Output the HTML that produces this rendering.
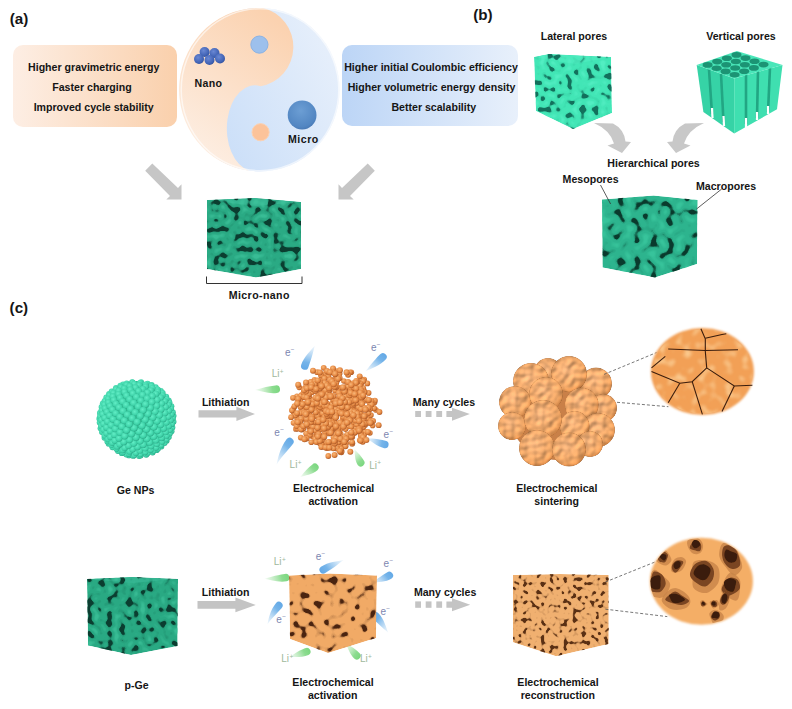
<!DOCTYPE html>
<html><head><meta charset="utf-8">
<style>
html,body{margin:0;padding:0;background:#fff;}
body{width:792px;height:709px;overflow:hidden;position:relative;}
svg{position:absolute;left:0;top:0;}
text{font-family:"Liberation Sans",sans-serif;font-weight:bold;fill:#151515;}
.lb{font-size:15.2px;}
.t{font-size:10.6px;}
.el{font-size:10px;font-weight:normal;fill:#7c86b0;}
.li{font-size:10px;font-weight:normal;fill:#a0b89c;}
</style></head><body>
<svg width="792" height="709" viewBox="0 0 792 709">
<defs>
<linearGradient id="gOr" x1="0" y1="0" x2="1" y2="0"><stop offset="0" stop-color="#fdeee4"/><stop offset="1" stop-color="#fad0ac"/></linearGradient>
<linearGradient id="gBl" x1="0" y1="0" x2="1" y2="0"><stop offset="0" stop-color="#bcd5f6"/><stop offset="1" stop-color="#e8f0fb"/></linearGradient>
<linearGradient id="gYO" x1="0.7" y1="0" x2="0.2" y2="1"><stop offset="0" stop-color="#fbd2b0"/><stop offset="1" stop-color="#fdf0e6"/></linearGradient>
<linearGradient id="gYB" x1="0" y1="0.7" x2="1" y2="0.2"><stop offset="0" stop-color="#c6dcf8"/><stop offset="1" stop-color="#e8f0fb"/></linearGradient>
<radialGradient id="gBall" cx="0.45" cy="0.35" r="0.7"><stop offset="0" stop-color="#6c9ed4"/><stop offset="0.8" stop-color="#5286c2"/><stop offset="1" stop-color="#4574b0"/></radialGradient>
<radialGradient id="gNano" cx="0.4" cy="0.35" r="0.7"><stop offset="0" stop-color="#6a88d4"/><stop offset="0.75" stop-color="#4062b4"/><stop offset="1" stop-color="#2c4c98"/></radialGradient>
<radialGradient id="gTealP" cx="0.42" cy="0.38" r="0.65"><stop offset="0" stop-color="#62eec6"/><stop offset="0.7" stop-color="#3ed2a8"/><stop offset="1" stop-color="#2aa886"/></radialGradient>
<radialGradient id="gGeShade" cx="0.45" cy="0.4" r="0.6"><stop offset="0.7" stop-color="#000" stop-opacity="0"/><stop offset="1" stop-color="#0a5040" stop-opacity="0.25"/></radialGradient>
<radialGradient id="gOrP" cx="0.4" cy="0.36" r="0.68"><stop offset="0" stop-color="#f9b87a"/><stop offset="0.6" stop-color="#e68a44"/><stop offset="1" stop-color="#a85422"/></radialGradient>
<radialGradient id="gSin" cx="0.42" cy="0.38" r="0.65"><stop offset="0" stop-color="#f0b07a"/><stop offset="0.75" stop-color="#e6a062"/><stop offset="1" stop-color="#d08446"/></radialGradient>
<radialGradient id="gZoom1" cx="0.5" cy="0.5" r="0.5"><stop offset="0.85" stop-color="#f2aa68"/><stop offset="1" stop-color="#f5c08e"/></radialGradient>
<radialGradient id="gZoom2" cx="0.5" cy="0.5" r="0.5"><stop offset="0.85" stop-color="#f5b06a"/><stop offset="1" stop-color="#f7c488"/></radialGradient>
<linearGradient id="dropB" x1="0" y1="0" x2="1" y2="0"><stop offset="0" stop-color="#62a8e6"/><stop offset="0.3" stop-color="#6eb0e8" stop-opacity="0.95"/><stop offset="1" stop-color="#a0ccf0" stop-opacity="0.15"/></linearGradient>
<linearGradient id="dropG" x1="0" y1="0" x2="1" y2="0"><stop offset="0" stop-color="#7ad67e"/><stop offset="0.3" stop-color="#86da8a" stop-opacity="0.95"/><stop offset="1" stop-color="#b0e4b0" stop-opacity="0.15"/></linearGradient>

<clipPath id="cA"><path d="M207.0,200.0 L255.0,198.0 L301.0,202.0 L301.0,269.0 L256.0,277.5 L207.0,269.0 Z"/></clipPath>
<filter id="fA" x="0" y="0" width="1" height="1" color-interpolation-filters="sRGB">
<feTurbulence type="fractalNoise" baseFrequency="0.15" numOctaves="1" seed="11" result="n"/>
<feColorMatrix in="n" type="matrix" values="0 0 0 0 0  0 0 0 0 0  0 0 0 0 0  -6 0 0 0 2.5199999999999996" result="ha"/>
<feFlood flood-color="#3fc49c" flood-opacity="0.7"/><feComposite in2="ha" operator="in" result="h"/>
<feColorMatrix in="n" type="matrix" values="0 0 0 0 0  0 0 0 0 0  0 0 0 0 0  5 0 0 0 -2.4999999999999996" result="sa"/>
<feFlood flood-color="#0c5540" flood-opacity="0.45"/><feComposite in2="sa" operator="in" result="s"/>
<feColorMatrix in="n" type="matrix" values="0 0 0 0 0  0 0 0 0 0  0 0 0 0 0  14 0 0 0 -8.12" result="a"/>
<feFlood flood-color="#0b3d30"/><feComposite in2="a" operator="in" result="c"/>
<feMerge><feMergeNode in="h"/><feMergeNode in="s"/><feMergeNode in="c"/></feMerge>
</filter>
<clipPath id="cL"><path d="M534.0,57.0 L549.0,54.0 L611.0,57.0 L612.0,113.0 L573.0,129.0 L536.0,111.0 Z"/></clipPath>
<filter id="fL" x="0" y="0" width="1" height="1" color-interpolation-filters="sRGB">
<feTurbulence type="fractalNoise" baseFrequency="0.15" numOctaves="1" seed="3" result="n"/>
<feColorMatrix in="n" type="matrix" values="0 0 0 0 0  0 0 0 0 0  0 0 0 0 0  -6 0 0 0 2.55" result="ha"/>
<feFlood flood-color="#58f0c6" flood-opacity="0.7"/><feComposite in2="ha" operator="in" result="h"/>
<feColorMatrix in="n" type="matrix" values="0 0 0 0 0  0 0 0 0 0  0 0 0 0 0  5 0 0 0 -2.525" result="sa"/>
<feFlood flood-color="#1a8c70" flood-opacity="0.35"/><feComposite in2="sa" operator="in" result="s"/>
<feColorMatrix in="n" type="matrix" values="0 0 0 0 0  0 0 0 0 0  0 0 0 0 0  14 0 0 0 -8.19" result="a"/>
<feFlood flood-color="#13705c"/><feComposite in2="a" operator="in" result="c"/>
<feMerge><feMergeNode in="h"/><feMergeNode in="s"/><feMergeNode in="c"/></feMerge>
</filter>
<clipPath id="cH"><path d="M602.0,199.5 L653.6,195.6 L697.6,200.0 L697.0,264.0 L655.0,277.4 L602.5,267.6 Z"/></clipPath>
<filter id="fH" x="0" y="0" width="1" height="1" color-interpolation-filters="sRGB">
<feTurbulence type="fractalNoise" baseFrequency="0.12" numOctaves="1" seed="21" result="n"/>
<feColorMatrix in="n" type="matrix" values="0 0 0 0 0  0 0 0 0 0  0 0 0 0 0  -6 0 0 0 2.6399999999999997" result="ha"/>
<feFlood flood-color="#3ccaa0" flood-opacity="0.7"/><feComposite in2="ha" operator="in" result="h"/>
<feColorMatrix in="n" type="matrix" values="0 0 0 0 0  0 0 0 0 0  0 0 0 0 0  5 0 0 0 -2.6" result="sa"/>
<feFlood flood-color="#0c5540" flood-opacity="0.4"/><feComposite in2="sa" operator="in" result="s"/>
<feColorMatrix in="n" type="matrix" values="0 0 0 0 0  0 0 0 0 0  0 0 0 0 0  14 0 0 0 -8.4" result="a"/>
<feFlood flood-color="#0a3a2d"/><feComposite in2="a" operator="in" result="c"/>
<feMerge><feMergeNode in="h"/><feMergeNode in="s"/><feMergeNode in="c"/></feMerge>
</filter>
<clipPath id="cGe"><circle cx="136.5" cy="419" r="39.5"/></clipPath>
<filter id="bump" x="-10%" y="-10%" width="120%" height="120%" color-interpolation-filters="sRGB">
<feTurbulence type="fractalNoise" baseFrequency="0.16" numOctaves="1" seed="4" result="n"/>
<feDiffuseLighting in="n" surfaceScale="1.3" diffuseConstant="1.0" lighting-color="#ffffff" result="light"><feDistantLight azimuth="235" elevation="55"/></feDiffuseLighting>
<feComposite in="SourceGraphic" in2="light" operator="arithmetic" k1="1.26" k2="0" k3="0" k4="0" result="lit"/>
<feComposite in="lit" in2="SourceGraphic" operator="in"/>
</filter>
<filter id="spots" x="0" y="0" width="1" height="1" color-interpolation-filters="sRGB">
<feTurbulence type="fractalNoise" baseFrequency="0.12" numOctaves="1" seed="17" result="n"/>
<feColorMatrix in="n" type="matrix" values="0 0 0 0 0.99  0 0 0 0 0.82  0 0 0 0 0.6  3.5 0 0 0 -1.8" result="c0"/><feGaussianBlur in="c0" stdDeviation="1" result="c"/>
<feComposite in="c" in2="SourceGraphic" operator="in"/></filter>
<filter id="soft1" x="-10%" y="-10%" width="120%" height="120%"><feGaussianBlur stdDeviation="1.2"/></filter>
<clipPath id="cP"><path d="M87.0,579.0 L132.0,577.0 L178.0,579.0 L177.5,646.0 L131.0,655.0 L88.0,645.5 Z"/></clipPath>
<filter id="fP" x="0" y="0" width="1" height="1" color-interpolation-filters="sRGB">
<feTurbulence type="fractalNoise" baseFrequency="0.15" numOctaves="1" seed="33" result="n"/>
<feColorMatrix in="n" type="matrix" values="0 0 0 0 0  0 0 0 0 0  0 0 0 0 0  -6 0 0 0 2.5199999999999996" result="ha"/>
<feFlood flood-color="#3fc49c" flood-opacity="0.7"/><feComposite in2="ha" operator="in" result="h"/>
<feColorMatrix in="n" type="matrix" values="0 0 0 0 0  0 0 0 0 0  0 0 0 0 0  5 0 0 0 -2.4999999999999996" result="sa"/>
<feFlood flood-color="#0c5540" flood-opacity="0.45"/><feComposite in2="sa" operator="in" result="s"/>
<feColorMatrix in="n" type="matrix" values="0 0 0 0 0  0 0 0 0 0  0 0 0 0 0  14 0 0 0 -8.12" result="a"/>
<feFlood flood-color="#0b3d30"/><feComposite in2="a" operator="in" result="c"/>
<feMerge><feMergeNode in="h"/><feMergeNode in="s"/><feMergeNode in="c"/></feMerge>
</filter>
<clipPath id="cO"><path d="M289.0,575.5 L330.0,573.5 L377.0,575.5 L376.0,638.0 L328.0,653.0 L290.0,639.0 Z"/></clipPath>
<filter id="fO" x="0" y="0" width="1" height="1" color-interpolation-filters="sRGB">
<feTurbulence type="fractalNoise" baseFrequency="0.13" numOctaves="1" seed="41" result="n"/>

<feColorMatrix in="n" type="matrix" values="0 0 0 0 0  0 0 0 0 0  0 0 0 0 0  5 0 0 0 -2.625" result="sa"/>
<feFlood flood-color="#4a2410" flood-opacity="0.4"/><feComposite in2="sa" operator="in" result="s"/>
<feColorMatrix in="n" type="matrix" values="0 0 0 0 0  0 0 0 0 0  0 0 0 0 0  14 0 0 0 -8.469999999999999" result="a"/>
<feFlood flood-color="#4a2410"/><feComposite in2="a" operator="in" result="c"/>
<feMerge><feMergeNode in="s"/><feMergeNode in="c"/></feMerge>
</filter>
<clipPath id="cR"><path d="M513.0,575.0 L560.0,574.0 L608.7,575.0 L608.7,644.0 L556.0,656.3 L513.0,642.3 Z"/></clipPath>
<filter id="fR" x="0" y="0" width="1" height="1" color-interpolation-filters="sRGB">
<feTurbulence type="fractalNoise" baseFrequency="0.22" numOctaves="1" seed="51" result="n"/>

<feColorMatrix in="n" type="matrix" values="0 0 0 0 0  0 0 0 0 0  0 0 0 0 0  5 0 0 0 -2.55" result="sa"/>
<feFlood flood-color="#5a3014" flood-opacity="0.45"/><feComposite in2="sa" operator="in" result="s"/>
<feColorMatrix in="n" type="matrix" values="0 0 0 0 0  0 0 0 0 0  0 0 0 0 0  14 0 0 0 -8.26" result="a"/>
<feFlood flood-color="#5a3014"/><feComposite in2="a" operator="in" result="c"/>
<feMerge><feMergeNode in="s"/><feMergeNode in="c"/></feMerge>
</filter>
<filter id="soft2" x="-10%" y="-10%" width="120%" height="120%"><feGaussianBlur stdDeviation="1.2"/></filter>
<clipPath id="cz2"><ellipse cx="701.4" cy="581.2" rx="51" ry="43"/></clipPath>
<filter id="hb" x="-5%" y="-5%" width="110%" height="110%"><feGaussianBlur stdDeviation="0.7"/></filter>
</defs>
<text class="lb" x="9.7" y="23.5">(a)</text>
<rect x="13" y="45" width="164" height="82" rx="10" fill="url(#gOr)"/>
<text class="t" text-anchor="middle" x="93.7" y="70.5">Higher gravimetric energy</text>
<text class="t" text-anchor="middle" x="92" y="91">Faster charging</text>
<text class="t" text-anchor="middle" x="93.7" y="111.3">Improved cycle stability</text>
<rect x="342" y="45" width="176" height="81" rx="10" fill="url(#gBl)"/>
<text class="t" text-anchor="middle" x="431" y="70.5">Higher initial Coulombic efficiency</text>
<text class="t" text-anchor="middle" x="431.6" y="91">Higher volumetric energy density</text>
<text class="t" text-anchor="middle" x="433.8" y="111.3">Better scalability</text>
<g transform="translate(260,89.7) scale(0.99375,1.02125) translate(-260,-90)">
<circle cx="260" cy="90" r="80" fill="url(#gYB)"/>
<path d="M263,10 A80,80 0 0,0 249,169.3 A28,42 0 0,1 260.6,86.6 A39,39 0 0,0 263,10 Z" fill="url(#gYO)"/>
<circle cx="260" cy="90" r="79.3" fill="none" stroke="#ffffff" stroke-opacity="0.6" stroke-width="1.5"/>
</g>
<circle cx="259.4" cy="44.6" r="8.6" fill="#9dc0ec" stroke="#8ab2e4" stroke-width="1"/>
<circle cx="260.6" cy="132.2" r="8.6" fill="#fcc39a" stroke="#fbd2b4" stroke-width="1"/>
<circle cx="302.1" cy="115" r="14.4" fill="url(#gBall)"/>
<circle cx="204.6" cy="52" r="5" fill="url(#gNano)"/>
<circle cx="214.5" cy="53" r="5" fill="url(#gNano)"/>
<circle cx="199" cy="59" r="5" fill="url(#gNano)"/>
<circle cx="209.5" cy="60" r="5" fill="url(#gNano)"/>
<circle cx="220" cy="58.5" r="5" fill="url(#gNano)"/>
<text class="t" x="194.5" y="86.8" letter-spacing="0.3">Nano</text>
<text class="t" x="288" y="142.8" letter-spacing="0.5">Micro</text>
<path d="M152.3,163.5 L178,188 L181.5,184.2 L181.5,199.4 L166.3,199.4 L170,196 L145.2,170.7 Z" fill="#c6c6c6"/>
<path d="M367.7,163.5 L342,188 L338.5,184.2 L338.5,199.4 L353.7,199.4 L350,196 L374.8,170.7 Z" fill="#c6c6c6"/>
<g clip-path="url(#cA)">
<path d="M207.0,200.0 L255.0,198.0 L301.0,202.0 L301.0,269.0 L256.0,277.5 L207.0,269.0 Z" fill="#2aaa84"/>
<path d="M207.0,200.0 L255.0,198.0 L301.0,202.0 L256.0,206.0 Z" fill="#36b692"/>
<rect x="205" y="196" width="98" height="83.5" filter="url(#fA)"/>
</g>
<path d="M206.5,276.5 L206.5,283.5 L302,283.5 L302,276.5" fill="none" stroke="#333" stroke-width="1"/>
<text class="t" text-anchor="middle" x="259.3" y="298.6" letter-spacing="0.4">Micro-nano</text>
<text class="lb" x="473.2" y="20.1">(b)</text>
<text class="t" x="540.7" y="39.7">Lateral pores</text>
<text class="t" x="706.2" y="40">Vertical pores</text>
<g clip-path="url(#cL)">
<path d="M534.0,57.0 L549.0,54.0 L611.0,57.0 L612.0,113.0 L573.0,129.0 L536.0,111.0 Z" fill="#42e6b6"/>
<path d="M534.0,57.0 L549.0,54.0 L611.0,57.0 L575.0,64.0 Z" fill="#4aeabc"/>
<rect x="532" y="52" width="82" height="79" filter="url(#fL)"/>
</g>
<path d="M696.7,65.0 L734.2,78.5 L734.2,133.5 L703.4,112.0 Z" fill="#36d3a6"/>
<path d="M734.2,78.5 L782.5,65.0 L777.0,109.3 L734.2,133.5 Z" fill="#3fdfb0"/>
<path d="M709,69.5 L712,114" stroke="#22a683" stroke-width="2.6"/>
<path d="M721,74 L723.5,122" stroke="#22a683" stroke-width="2.6"/>
<path d="M746,74.5 L746,124" stroke="#22a683" stroke-width="2.6"/>
<path d="M758,71 L757,118" stroke="#22a683" stroke-width="2.6"/>
<path d="M770,67.5 L768,112" stroke="#22a683" stroke-width="2.6"/>
<path d="M712,108 L712.5,118" stroke="#ffffff" stroke-width="2.2"/>
<path d="M723.5,116 L724,126" stroke="#ffffff" stroke-width="2.2"/>
<path d="M746,118 L746,128" stroke="#ffffff" stroke-width="2.2"/>
<path d="M757,112 L757,120" stroke="#ffffff" stroke-width="2.2"/>
<path d="M768,106 L768,114" stroke="#ffffff" stroke-width="2.2"/>
<path d="M696.7,65.0 L736.9,51.0 L782.5,65.0 L734.2,78.5 Z" fill="#4ae6b9"/>
<ellipse cx="707.6" cy="64.9" rx="5.0" ry="2.8" fill="#1c9474"/>
<ellipse cx="716.6" cy="68.2" rx="5.0" ry="2.8" fill="#1c9474"/>
<ellipse cx="725.6" cy="71.4" rx="5.0" ry="2.8" fill="#1c9474"/>
<ellipse cx="734.6" cy="74.7" rx="5.0" ry="2.8" fill="#1c9474"/>
<ellipse cx="717.2" cy="61.6" rx="5.0" ry="2.8" fill="#1c9474"/>
<ellipse cx="726.2" cy="64.8" rx="5.0" ry="2.8" fill="#1c9474"/>
<ellipse cx="735.2" cy="68.0" rx="5.0" ry="2.8" fill="#1c9474"/>
<ellipse cx="744.2" cy="71.3" rx="5.0" ry="2.8" fill="#1c9474"/>
<ellipse cx="726.9" cy="58.2" rx="5.0" ry="2.8" fill="#1c9474"/>
<ellipse cx="735.9" cy="61.5" rx="5.0" ry="2.8" fill="#1c9474"/>
<ellipse cx="744.9" cy="64.7" rx="5.0" ry="2.8" fill="#1c9474"/>
<ellipse cx="753.9" cy="67.9" rx="5.0" ry="2.8" fill="#1c9474"/>
<ellipse cx="736.5" cy="54.9" rx="5.0" ry="2.8" fill="#1c9474"/>
<ellipse cx="745.5" cy="58.1" rx="5.0" ry="2.8" fill="#1c9474"/>
<ellipse cx="754.5" cy="61.3" rx="5.0" ry="2.8" fill="#1c9474"/>
<ellipse cx="763.5" cy="64.6" rx="5.0" ry="2.8" fill="#1c9474"/>
<path d="M594,123 L613,123.5 Q624,129 625.5,141.5 L631,142 L622,153 L607.5,145.5 L614,143.5 Q610,130 594,123 Z" fill="#c8c8c8"/>
<path d="M704,123 L685,123.5 Q674,129 672.5,141.5 L667,142 L676,153 L690.5,145.5 L684,143.5 Q688,130 704,123 Z" fill="#c8c8c8"/>
<text class="t" x="607.3" y="166.9">Hierarchical pores</text>
<text class="t" x="562.6" y="183.1">Mesopores</text>
<text class="t" x="696" y="189.5">Macropores</text>
<g clip-path="url(#cH)">
<path d="M602.0,199.5 L653.6,195.6 L697.6,200.0 L697.0,264.0 L655.0,277.4 L602.5,267.6 Z" fill="#2db48e"/>
<rect x="600" y="193.6" width="99.60000000000002" height="85.79999999999998" filter="url(#fH)"/>
</g>
<line x1="600.5" y1="185" x2="610.6" y2="204" stroke="#333" stroke-width="0.8"/>
<line x1="721.7" y1="189" x2="696.5" y2="209" stroke="#333" stroke-width="0.8"/>
<text class="lb" x="9.6" y="313.1">(c)</text>
<circle cx="136.5" cy="419" r="38" fill="#2fb88e"/>
<g>
<circle cx="156.6" cy="450.2" r="2.87" fill="url(#gTealP)"/>
<circle cx="168.7" cy="400.4" r="2.87" fill="url(#gTealP)"/>
<circle cx="123.1" cy="384.3" r="2.87" fill="url(#gTealP)"/>
<circle cx="109.1" cy="393.8" r="2.87" fill="url(#gTealP)"/>
<circle cx="129.0" cy="455.4" r="2.88" fill="url(#gTealP)"/>
<circle cx="151.6" cy="385.0" r="2.88" fill="url(#gTealP)"/>
<circle cx="99.3" cy="418.7" r="2.88" fill="url(#gTealP)"/>
<circle cx="166.7" cy="440.7" r="2.88" fill="url(#gTealP)"/>
<circle cx="173.6" cy="415.8" r="2.89" fill="url(#gTealP)"/>
<circle cx="108.6" cy="443.7" r="2.89" fill="url(#gTealP)"/>
<circle cx="139.0" cy="456.1" r="2.90" fill="url(#gTealP)"/>
<circle cx="102.8" cy="403.3" r="2.90" fill="url(#gTealP)"/>
<circle cx="160.9" cy="390.9" r="2.90" fill="url(#gTealP)"/>
<circle cx="132.1" cy="382.1" r="2.91" fill="url(#gTealP)"/>
<circle cx="121.8" cy="453.2" r="2.91" fill="url(#gTealP)"/>
<circle cx="171.6" cy="431.2" r="2.91" fill="url(#gTealP)"/>
<circle cx="116.0" cy="387.9" r="2.91" fill="url(#gTealP)"/>
<circle cx="100.5" cy="428.3" r="2.91" fill="url(#gTealP)"/>
<circle cx="161.4" cy="446.6" r="2.92" fill="url(#gTealP)"/>
<circle cx="171.4" cy="406.3" r="2.93" fill="url(#gTealP)"/>
<circle cx="99.9" cy="412.9" r="2.94" fill="url(#gTealP)"/>
<circle cx="152.6" cy="452.5" r="2.94" fill="url(#gTealP)"/>
<circle cx="104.5" cy="437.8" r="2.94" fill="url(#gTealP)"/>
<circle cx="106.3" cy="397.5" r="2.95" fill="url(#gTealP)"/>
<circle cx="173.5" cy="421.7" r="2.95" fill="url(#gTealP)"/>
<circle cx="166.2" cy="396.8" r="2.95" fill="url(#gTealP)"/>
<circle cx="155.7" cy="387.3" r="2.95" fill="url(#gTealP)"/>
<circle cx="133.3" cy="455.9" r="2.96" fill="url(#gTealP)"/>
<circle cx="112.5" cy="447.3" r="2.96" fill="url(#gTealP)"/>
<circle cx="147.6" cy="383.6" r="2.96" fill="url(#gTealP)"/>
<circle cx="141.1" cy="382.2" r="2.96" fill="url(#gTealP)"/>
<circle cx="168.8" cy="437.1" r="2.96" fill="url(#gTealP)"/>
<circle cx="146.2" cy="454.7" r="2.97" fill="url(#gTealP)"/>
<circle cx="99.7" cy="422.4" r="2.97" fill="url(#gTealP)"/>
<circle cx="120.4" cy="385.7" r="2.98" fill="url(#gTealP)"/>
<circle cx="126.4" cy="454.6" r="2.98" fill="url(#gTealP)"/>
<circle cx="111.7" cy="391.6" r="2.98" fill="url(#gTealP)"/>
<circle cx="172.8" cy="412.2" r="2.98" fill="url(#gTealP)"/>
<circle cx="101.6" cy="407.0" r="2.99" fill="url(#gTealP)"/>
<circle cx="118.0" cy="450.9" r="2.99" fill="url(#gTealP)"/>
<circle cx="126.7" cy="383.4" r="2.99" fill="url(#gTealP)"/>
<circle cx="164.5" cy="443.0" r="3.00" fill="url(#gTealP)"/>
<circle cx="140.6" cy="455.6" r="3.00" fill="url(#gTealP)"/>
<circle cx="102.0" cy="431.9" r="3.00" fill="url(#gTealP)"/>
<circle cx="172.3" cy="427.6" r="3.00" fill="url(#gTealP)"/>
<circle cx="169.4" cy="402.6" r="3.01" fill="url(#gTealP)"/>
<circle cx="157.9" cy="448.8" r="3.01" fill="url(#gTealP)"/>
<circle cx="162.6" cy="393.1" r="3.01" fill="url(#gTealP)"/>
<circle cx="107.4" cy="441.4" r="3.01" fill="url(#gTealP)"/>
<circle cx="132.6" cy="382.6" r="3.02" fill="url(#gTealP)"/>
<circle cx="100.0" cy="416.5" r="3.03" fill="url(#gTealP)"/>
<circle cx="104.7" cy="401.1" r="3.03" fill="url(#gTealP)"/>
<circle cx="172.9" cy="418.0" r="3.04" fill="url(#gTealP)"/>
<circle cx="157.7" cy="389.5" r="3.05" fill="url(#gTealP)"/>
<circle cx="151.4" cy="385.9" r="3.05" fill="url(#gTealP)"/>
<circle cx="169.8" cy="433.4" r="3.05" fill="url(#gTealP)"/>
<circle cx="115.7" cy="389.3" r="3.06" fill="url(#gTealP)"/>
<circle cx="109.2" cy="395.2" r="3.06" fill="url(#gTealP)"/>
<circle cx="101.0" cy="426.0" r="3.06" fill="url(#gTealP)"/>
<circle cx="153.1" cy="451.1" r="3.06" fill="url(#gTealP)"/>
<circle cx="134.1" cy="455.1" r="3.06" fill="url(#gTealP)"/>
<circle cx="111.5" cy="445.0" r="3.07" fill="url(#gTealP)"/>
<circle cx="171.0" cy="408.5" r="3.07" fill="url(#gTealP)"/>
<circle cx="140.1" cy="383.1" r="3.07" fill="url(#gTealP)"/>
<circle cx="147.4" cy="453.3" r="3.07" fill="url(#gTealP)"/>
<circle cx="122.9" cy="452.3" r="3.08" fill="url(#gTealP)"/>
<circle cx="166.4" cy="399.0" r="3.08" fill="url(#gTealP)"/>
<circle cx="104.6" cy="435.5" r="3.08" fill="url(#gTealP)"/>
<circle cx="101.6" cy="410.6" r="3.08" fill="url(#gTealP)"/>
<circle cx="166.1" cy="439.3" r="3.08" fill="url(#gTealP)"/>
<circle cx="116.5" cy="448.7" r="3.09" fill="url(#gTealP)"/>
<circle cx="160.8" cy="445.2" r="3.09" fill="url(#gTealP)"/>
<circle cx="145.7" cy="384.5" r="3.09" fill="url(#gTealP)"/>
<circle cx="171.9" cy="423.9" r="3.10" fill="url(#gTealP)"/>
<circle cx="126.4" cy="384.8" r="3.10" fill="url(#gTealP)"/>
<circle cx="120.7" cy="387.1" r="3.10" fill="url(#gTealP)"/>
<circle cx="128.8" cy="453.7" r="3.11" fill="url(#gTealP)"/>
<circle cx="140.1" cy="454.2" r="3.12" fill="url(#gTealP)"/>
<circle cx="101.2" cy="420.1" r="3.12" fill="url(#gTealP)"/>
<circle cx="104.3" cy="404.7" r="3.12" fill="url(#gTealP)"/>
<circle cx="171.3" cy="414.4" r="3.13" fill="url(#gTealP)"/>
<circle cx="162.5" cy="395.4" r="3.13" fill="url(#gTealP)"/>
<circle cx="134.2" cy="384.0" r="3.13" fill="url(#gTealP)"/>
<circle cx="108.0" cy="439.2" r="3.14" fill="url(#gTealP)"/>
<circle cx="169.7" cy="429.8" r="3.14" fill="url(#gTealP)"/>
<circle cx="103.3" cy="429.6" r="3.14" fill="url(#gTealP)"/>
<circle cx="168.3" cy="404.9" r="3.15" fill="url(#gTealP)"/>
<circle cx="113.4" cy="393.0" r="3.15" fill="url(#gTealP)"/>
<circle cx="108.1" cy="398.8" r="3.15" fill="url(#gTealP)"/>
<circle cx="152.3" cy="388.1" r="3.15" fill="url(#gTealP)"/>
<circle cx="157.8" cy="391.7" r="3.16" fill="url(#gTealP)"/>
<circle cx="156.0" cy="447.5" r="3.16" fill="url(#gTealP)"/>
<circle cx="102.6" cy="414.2" r="3.17" fill="url(#gTealP)"/>
<circle cx="166.4" cy="435.7" r="3.17" fill="url(#gTealP)"/>
<circle cx="145.1" cy="452.0" r="3.18" fill="url(#gTealP)"/>
<circle cx="122.6" cy="450.1" r="3.18" fill="url(#gTealP)"/>
<circle cx="161.9" cy="441.6" r="3.18" fill="url(#gTealP)"/>
<circle cx="112.2" cy="442.8" r="3.18" fill="url(#gTealP)"/>
<circle cx="170.4" cy="420.3" r="3.19" fill="url(#gTealP)"/>
<circle cx="135.8" cy="452.8" r="3.19" fill="url(#gTealP)"/>
<circle cx="150.6" cy="449.7" r="3.19" fill="url(#gTealP)"/>
<circle cx="139.1" cy="385.3" r="3.19" fill="url(#gTealP)"/>
<circle cx="117.1" cy="446.4" r="3.20" fill="url(#gTealP)"/>
<circle cx="145.6" cy="386.7" r="3.20" fill="url(#gTealP)"/>
<circle cx="129.6" cy="386.2" r="3.20" fill="url(#gTealP)"/>
<circle cx="118.6" cy="390.7" r="3.20" fill="url(#gTealP)"/>
<circle cx="103.4" cy="423.8" r="3.20" fill="url(#gTealP)"/>
<circle cx="164.8" cy="401.3" r="3.21" fill="url(#gTealP)"/>
<circle cx="168.8" cy="410.8" r="3.21" fill="url(#gTealP)"/>
<circle cx="106.4" cy="433.3" r="3.21" fill="url(#gTealP)"/>
<circle cx="105.0" cy="408.4" r="3.21" fill="url(#gTealP)"/>
<circle cx="129.5" cy="451.4" r="3.22" fill="url(#gTealP)"/>
<circle cx="124.2" cy="388.5" r="3.23" fill="url(#gTealP)"/>
<circle cx="168.5" cy="426.2" r="3.23" fill="url(#gTealP)"/>
<circle cx="108.4" cy="402.5" r="3.24" fill="url(#gTealP)"/>
<circle cx="112.9" cy="396.6" r="3.24" fill="url(#gTealP)"/>
<circle cx="160.6" cy="397.6" r="3.25" fill="url(#gTealP)"/>
<circle cx="156.7" cy="443.8" r="3.26" fill="url(#gTealP)"/>
<circle cx="150.8" cy="390.4" r="3.26" fill="url(#gTealP)"/>
<circle cx="104.6" cy="417.9" r="3.26" fill="url(#gTealP)"/>
<circle cx="165.5" cy="432.1" r="3.26" fill="url(#gTealP)"/>
<circle cx="139.8" cy="450.6" r="3.26" fill="url(#gTealP)"/>
<circle cx="110.3" cy="436.9" r="3.27" fill="url(#gTealP)"/>
<circle cx="168.1" cy="416.7" r="3.27" fill="url(#gTealP)"/>
<circle cx="155.9" cy="394.0" r="3.27" fill="url(#gTealP)"/>
<circle cx="161.6" cy="437.9" r="3.27" fill="url(#gTealP)"/>
<circle cx="135.4" cy="387.6" r="3.27" fill="url(#gTealP)"/>
<circle cx="165.5" cy="407.1" r="3.28" fill="url(#gTealP)"/>
<circle cx="106.4" cy="427.4" r="3.28" fill="url(#gTealP)"/>
<circle cx="124.6" cy="447.8" r="3.28" fill="url(#gTealP)"/>
<circle cx="151.0" cy="446.1" r="3.30" fill="url(#gTealP)"/>
<circle cx="142.9" cy="389.0" r="3.30" fill="url(#gTealP)"/>
<circle cx="114.8" cy="440.5" r="3.30" fill="url(#gTealP)"/>
<circle cx="145.1" cy="448.3" r="3.30" fill="url(#gTealP)"/>
<circle cx="106.8" cy="412.0" r="3.30" fill="url(#gTealP)"/>
<circle cx="118.5" cy="394.3" r="3.30" fill="url(#gTealP)"/>
<circle cx="132.6" cy="449.2" r="3.30" fill="url(#gTealP)"/>
<circle cx="119.6" cy="444.2" r="3.31" fill="url(#gTealP)"/>
<circle cx="166.3" cy="422.5" r="3.31" fill="url(#gTealP)"/>
<circle cx="130.3" cy="389.8" r="3.32" fill="url(#gTealP)"/>
<circle cx="109.9" cy="406.1" r="3.32" fill="url(#gTealP)"/>
<circle cx="113.8" cy="400.2" r="3.33" fill="url(#gTealP)"/>
<circle cx="124.5" cy="392.1" r="3.33" fill="url(#gTealP)"/>
<circle cx="161.5" cy="403.5" r="3.33" fill="url(#gTealP)"/>
<circle cx="107.4" cy="421.5" r="3.33" fill="url(#gTealP)"/>
<circle cx="110.1" cy="431.0" r="3.34" fill="url(#gTealP)"/>
<circle cx="164.9" cy="413.0" r="3.34" fill="url(#gTealP)"/>
<circle cx="155.9" cy="440.2" r="3.35" fill="url(#gTealP)"/>
<circle cx="163.6" cy="428.4" r="3.35" fill="url(#gTealP)"/>
<circle cx="147.4" cy="392.6" r="3.35" fill="url(#gTealP)"/>
<circle cx="160.1" cy="434.3" r="3.36" fill="url(#gTealP)"/>
<circle cx="157.0" cy="399.9" r="3.36" fill="url(#gTealP)"/>
<circle cx="137.4" cy="446.9" r="3.36" fill="url(#gTealP)"/>
<circle cx="138.5" cy="391.2" r="3.36" fill="url(#gTealP)"/>
<circle cx="128.5" cy="445.6" r="3.37" fill="url(#gTealP)"/>
<circle cx="152.2" cy="396.2" r="3.37" fill="url(#gTealP)"/>
<circle cx="109.5" cy="415.6" r="3.38" fill="url(#gTealP)"/>
<circle cx="114.4" cy="434.7" r="3.38" fill="url(#gTealP)"/>
<circle cx="149.6" cy="442.4" r="3.38" fill="url(#gTealP)"/>
<circle cx="120.0" cy="398.0" r="3.39" fill="url(#gTealP)"/>
<circle cx="163.2" cy="418.9" r="3.39" fill="url(#gTealP)"/>
<circle cx="143.2" cy="444.7" r="3.39" fill="url(#gTealP)"/>
<circle cx="161.0" cy="409.4" r="3.40" fill="url(#gTealP)"/>
<circle cx="123.8" cy="441.9" r="3.40" fill="url(#gTealP)"/>
<circle cx="111.1" cy="425.1" r="3.40" fill="url(#gTealP)"/>
<circle cx="119.0" cy="438.3" r="3.40" fill="url(#gTealP)"/>
<circle cx="112.4" cy="409.7" r="3.40" fill="url(#gTealP)"/>
<circle cx="132.8" cy="393.5" r="3.40" fill="url(#gTealP)"/>
<circle cx="115.9" cy="403.9" r="3.41" fill="url(#gTealP)"/>
<circle cx="126.5" cy="395.7" r="3.41" fill="url(#gTealP)"/>
<circle cx="142.5" cy="394.9" r="3.42" fill="url(#gTealP)"/>
<circle cx="160.7" cy="424.8" r="3.42" fill="url(#gTealP)"/>
<circle cx="153.7" cy="436.6" r="3.43" fill="url(#gTealP)"/>
<circle cx="133.8" cy="443.3" r="3.43" fill="url(#gTealP)"/>
<circle cx="156.6" cy="405.8" r="3.43" fill="url(#gTealP)"/>
<circle cx="157.4" cy="430.7" r="3.44" fill="url(#gTealP)"/>
<circle cx="113.0" cy="419.3" r="3.44" fill="url(#gTealP)"/>
<circle cx="115.3" cy="428.8" r="3.44" fill="url(#gTealP)"/>
<circle cx="159.4" cy="415.3" r="3.45" fill="url(#gTealP)"/>
<circle cx="147.1" cy="398.5" r="3.45" fill="url(#gTealP)"/>
<circle cx="151.8" cy="402.1" r="3.45" fill="url(#gTealP)"/>
<circle cx="146.9" cy="438.8" r="3.46" fill="url(#gTealP)"/>
<circle cx="140.1" cy="441.1" r="3.46" fill="url(#gTealP)"/>
<circle cx="122.6" cy="401.6" r="3.46" fill="url(#gTealP)"/>
<circle cx="136.4" cy="397.1" r="3.47" fill="url(#gTealP)"/>
<circle cx="129.4" cy="439.7" r="3.47" fill="url(#gTealP)"/>
<circle cx="115.7" cy="413.4" r="3.47" fill="url(#gTealP)"/>
<circle cx="119.9" cy="432.4" r="3.47" fill="url(#gTealP)"/>
<circle cx="119.0" cy="407.5" r="3.48" fill="url(#gTealP)"/>
<circle cx="129.6" cy="399.4" r="3.48" fill="url(#gTealP)"/>
<circle cx="124.7" cy="436.0" r="3.48" fill="url(#gTealP)"/>
<circle cx="157.0" cy="421.2" r="3.48" fill="url(#gTealP)"/>
<circle cx="155.0" cy="411.6" r="3.49" fill="url(#gTealP)"/>
<circle cx="150.5" cy="432.9" r="3.49" fill="url(#gTealP)"/>
<circle cx="117.2" cy="422.9" r="3.49" fill="url(#gTealP)"/>
<circle cx="153.9" cy="427.0" r="3.50" fill="url(#gTealP)"/>
<circle cx="140.7" cy="400.7" r="3.50" fill="url(#gTealP)"/>
<circle cx="136.0" cy="437.4" r="3.51" fill="url(#gTealP)"/>
<circle cx="150.3" cy="408.0" r="3.52" fill="url(#gTealP)"/>
<circle cx="143.2" cy="435.2" r="3.52" fill="url(#gTealP)"/>
<circle cx="126.2" cy="405.2" r="3.52" fill="url(#gTealP)"/>
<circle cx="145.5" cy="404.4" r="3.52" fill="url(#gTealP)"/>
<circle cx="119.8" cy="417.0" r="3.52" fill="url(#gTealP)"/>
<circle cx="121.8" cy="426.5" r="3.53" fill="url(#gTealP)"/>
<circle cx="133.6" cy="403.0" r="3.53" fill="url(#gTealP)"/>
<circle cx="152.7" cy="417.5" r="3.53" fill="url(#gTealP)"/>
<circle cx="122.9" cy="411.1" r="3.53" fill="url(#gTealP)"/>
<circle cx="131.5" cy="433.8" r="3.54" fill="url(#gTealP)"/>
<circle cx="126.6" cy="430.2" r="3.54" fill="url(#gTealP)"/>
<circle cx="146.5" cy="429.3" r="3.55" fill="url(#gTealP)"/>
<circle cx="149.8" cy="423.4" r="3.55" fill="url(#gTealP)"/>
<circle cx="138.9" cy="431.5" r="3.56" fill="url(#gTealP)"/>
<circle cx="148.0" cy="413.9" r="3.56" fill="url(#gTealP)"/>
<circle cx="138.2" cy="406.6" r="3.56" fill="url(#gTealP)"/>
<circle cx="124.3" cy="420.6" r="3.56" fill="url(#gTealP)"/>
<circle cx="130.5" cy="408.9" r="3.56" fill="url(#gTealP)"/>
<circle cx="143.1" cy="410.3" r="3.57" fill="url(#gTealP)"/>
<circle cx="127.3" cy="414.8" r="3.57" fill="url(#gTealP)"/>
<circle cx="134.1" cy="427.9" r="3.58" fill="url(#gTealP)"/>
<circle cx="129.2" cy="424.3" r="3.58" fill="url(#gTealP)"/>
<circle cx="145.1" cy="419.8" r="3.58" fill="url(#gTealP)"/>
<circle cx="142.0" cy="425.7" r="3.58" fill="url(#gTealP)"/>
<circle cx="135.2" cy="412.5" r="3.59" fill="url(#gTealP)"/>
<circle cx="140.2" cy="416.1" r="3.59" fill="url(#gTealP)"/>
<circle cx="132.2" cy="418.4" r="3.60" fill="url(#gTealP)"/>
<circle cx="137.1" cy="422.0" r="3.60" fill="url(#gTealP)"/>
</g>
<text class="t" x="116.7" y="493.6">Ge NPs</text>
<text class="t" x="201.9" y="405.8">Lithiation</text>
<path d="M198.5,410.3 L236.4,410.3 L236.4,406.8 L255,414 L236.4,420.9 L236.4,417.4 L198.5,417.4 Z" fill="#c4c4c4"/>
<circle cx="347.4" cy="412.3" r="2.61" fill="url(#gOrP)"/>
<circle cx="342.4" cy="407.6" r="2.62" fill="url(#gOrP)"/>
<circle cx="344.3" cy="399.8" r="2.63" fill="url(#gOrP)"/>
<circle cx="345.1" cy="427.6" r="2.63" fill="url(#gOrP)"/>
<circle cx="326.2" cy="398.5" r="2.63" fill="url(#gOrP)"/>
<circle cx="337.2" cy="399.2" r="2.63" fill="url(#gOrP)"/>
<circle cx="324.6" cy="403.1" r="2.64" fill="url(#gOrP)"/>
<circle cx="353.0" cy="405.5" r="2.64" fill="url(#gOrP)"/>
<circle cx="349.3" cy="395.3" r="2.64" fill="url(#gOrP)"/>
<circle cx="320.9" cy="429.6" r="2.64" fill="url(#gOrP)"/>
<circle cx="351.9" cy="403.9" r="2.64" fill="url(#gOrP)"/>
<circle cx="336.2" cy="427.3" r="2.64" fill="url(#gOrP)"/>
<circle cx="335.1" cy="418.7" r="2.65" fill="url(#gOrP)"/>
<circle cx="326.6" cy="403.2" r="2.65" fill="url(#gOrP)"/>
<circle cx="339.7" cy="427.2" r="2.65" fill="url(#gOrP)"/>
<circle cx="309.8" cy="415.0" r="2.66" fill="url(#gOrP)"/>
<circle cx="349.2" cy="413.2" r="2.66" fill="url(#gOrP)"/>
<circle cx="344.7" cy="393.7" r="2.66" fill="url(#gOrP)"/>
<circle cx="320.4" cy="389.6" r="2.66" fill="url(#gOrP)"/>
<circle cx="331.8" cy="403.1" r="2.66" fill="url(#gOrP)"/>
<circle cx="324.3" cy="401.9" r="2.66" fill="url(#gOrP)"/>
<circle cx="361.5" cy="414.0" r="2.66" fill="url(#gOrP)"/>
<circle cx="336.4" cy="433.3" r="2.66" fill="url(#gOrP)"/>
<circle cx="354.4" cy="411.1" r="2.67" fill="url(#gOrP)"/>
<circle cx="315.5" cy="416.4" r="2.67" fill="url(#gOrP)"/>
<circle cx="346.9" cy="412.1" r="2.67" fill="url(#gOrP)"/>
<circle cx="329.0" cy="412.4" r="2.67" fill="url(#gOrP)"/>
<circle cx="340.1" cy="403.7" r="2.67" fill="url(#gOrP)"/>
<circle cx="314.8" cy="415.5" r="2.68" fill="url(#gOrP)"/>
<circle cx="325.9" cy="386.1" r="2.68" fill="url(#gOrP)"/>
<circle cx="322.0" cy="414.9" r="2.68" fill="url(#gOrP)"/>
<circle cx="311.2" cy="403.3" r="2.68" fill="url(#gOrP)"/>
<circle cx="350.1" cy="433.9" r="2.68" fill="url(#gOrP)"/>
<circle cx="339.8" cy="436.4" r="2.68" fill="url(#gOrP)"/>
<circle cx="310.6" cy="416.9" r="2.68" fill="url(#gOrP)"/>
<circle cx="308.4" cy="418.2" r="2.69" fill="url(#gOrP)"/>
<circle cx="359.9" cy="426.5" r="2.69" fill="url(#gOrP)"/>
<circle cx="332.1" cy="421.7" r="2.69" fill="url(#gOrP)"/>
<circle cx="354.3" cy="426.1" r="2.69" fill="url(#gOrP)"/>
<circle cx="328.3" cy="427.4" r="2.69" fill="url(#gOrP)"/>
<circle cx="343.7" cy="425.0" r="2.69" fill="url(#gOrP)"/>
<circle cx="323.1" cy="411.4" r="2.69" fill="url(#gOrP)"/>
<circle cx="316.3" cy="434.5" r="2.69" fill="url(#gOrP)"/>
<circle cx="354.0" cy="426.3" r="2.69" fill="url(#gOrP)"/>
<circle cx="360.1" cy="396.5" r="2.69" fill="url(#gOrP)"/>
<circle cx="349.0" cy="396.5" r="2.69" fill="url(#gOrP)"/>
<circle cx="345.9" cy="436.7" r="2.69" fill="url(#gOrP)"/>
<circle cx="307.4" cy="417.5" r="2.69" fill="url(#gOrP)"/>
<circle cx="316.0" cy="407.5" r="2.69" fill="url(#gOrP)"/>
<circle cx="317.4" cy="433.1" r="2.70" fill="url(#gOrP)"/>
<circle cx="319.9" cy="435.2" r="2.70" fill="url(#gOrP)"/>
<circle cx="345.1" cy="441.0" r="2.70" fill="url(#gOrP)"/>
<circle cx="354.8" cy="396.6" r="2.70" fill="url(#gOrP)"/>
<circle cx="362.5" cy="399.6" r="2.70" fill="url(#gOrP)"/>
<circle cx="340.8" cy="434.0" r="2.70" fill="url(#gOrP)"/>
<circle cx="316.3" cy="432.5" r="2.70" fill="url(#gOrP)"/>
<circle cx="336.3" cy="386.6" r="2.70" fill="url(#gOrP)"/>
<circle cx="365.5" cy="400.7" r="2.70" fill="url(#gOrP)"/>
<circle cx="351.9" cy="405.5" r="2.71" fill="url(#gOrP)"/>
<circle cx="358.3" cy="405.7" r="2.71" fill="url(#gOrP)"/>
<circle cx="321.7" cy="378.8" r="2.71" fill="url(#gOrP)"/>
<circle cx="316.0" cy="411.0" r="2.71" fill="url(#gOrP)"/>
<circle cx="357.2" cy="409.0" r="2.71" fill="url(#gOrP)"/>
<circle cx="358.5" cy="407.3" r="2.71" fill="url(#gOrP)"/>
<circle cx="316.3" cy="423.9" r="2.71" fill="url(#gOrP)"/>
<circle cx="353.9" cy="425.1" r="2.71" fill="url(#gOrP)"/>
<circle cx="334.2" cy="416.3" r="2.71" fill="url(#gOrP)"/>
<circle cx="317.8" cy="411.4" r="2.71" fill="url(#gOrP)"/>
<circle cx="334.0" cy="406.3" r="2.71" fill="url(#gOrP)"/>
<circle cx="333.3" cy="437.1" r="2.71" fill="url(#gOrP)"/>
<circle cx="319.3" cy="426.2" r="2.71" fill="url(#gOrP)"/>
<circle cx="314.3" cy="405.1" r="2.71" fill="url(#gOrP)"/>
<circle cx="302.8" cy="397.5" r="2.71" fill="url(#gOrP)"/>
<circle cx="313.2" cy="429.9" r="2.71" fill="url(#gOrP)"/>
<circle cx="355.2" cy="397.3" r="2.71" fill="url(#gOrP)"/>
<circle cx="301.6" cy="394.6" r="2.71" fill="url(#gOrP)"/>
<circle cx="354.4" cy="415.5" r="2.71" fill="url(#gOrP)"/>
<circle cx="330.1" cy="397.3" r="2.71" fill="url(#gOrP)"/>
<circle cx="329.9" cy="381.6" r="2.72" fill="url(#gOrP)"/>
<circle cx="356.1" cy="388.0" r="2.72" fill="url(#gOrP)"/>
<circle cx="356.0" cy="428.2" r="2.72" fill="url(#gOrP)"/>
<circle cx="364.9" cy="407.9" r="2.72" fill="url(#gOrP)"/>
<circle cx="323.9" cy="389.8" r="2.72" fill="url(#gOrP)"/>
<circle cx="356.0" cy="390.0" r="2.72" fill="url(#gOrP)"/>
<circle cx="321.3" cy="439.6" r="2.72" fill="url(#gOrP)"/>
<circle cx="321.9" cy="403.5" r="2.72" fill="url(#gOrP)"/>
<circle cx="327.9" cy="386.2" r="2.72" fill="url(#gOrP)"/>
<circle cx="342.0" cy="423.2" r="2.72" fill="url(#gOrP)"/>
<circle cx="309.7" cy="429.3" r="2.72" fill="url(#gOrP)"/>
<circle cx="323.0" cy="380.8" r="2.72" fill="url(#gOrP)"/>
<circle cx="329.7" cy="394.5" r="2.72" fill="url(#gOrP)"/>
<circle cx="316.9" cy="399.7" r="2.72" fill="url(#gOrP)"/>
<circle cx="339.3" cy="411.7" r="2.73" fill="url(#gOrP)"/>
<circle cx="329.2" cy="389.0" r="2.73" fill="url(#gOrP)"/>
<circle cx="336.2" cy="434.5" r="2.73" fill="url(#gOrP)"/>
<circle cx="340.3" cy="393.7" r="2.73" fill="url(#gOrP)"/>
<circle cx="300.2" cy="400.8" r="2.73" fill="url(#gOrP)"/>
<circle cx="344.9" cy="441.6" r="2.73" fill="url(#gOrP)"/>
<circle cx="353.2" cy="414.6" r="2.73" fill="url(#gOrP)"/>
<circle cx="324.6" cy="429.6" r="2.73" fill="url(#gOrP)"/>
<circle cx="315.5" cy="387.6" r="2.73" fill="url(#gOrP)"/>
<circle cx="322.5" cy="374.1" r="2.74" fill="url(#gOrP)"/>
<circle cx="348.7" cy="426.6" r="2.74" fill="url(#gOrP)"/>
<circle cx="296.8" cy="418.0" r="2.74" fill="url(#gOrP)"/>
<circle cx="355.2" cy="414.3" r="2.74" fill="url(#gOrP)"/>
<circle cx="345.0" cy="410.0" r="2.74" fill="url(#gOrP)"/>
<circle cx="350.5" cy="390.0" r="2.74" fill="url(#gOrP)"/>
<circle cx="330.8" cy="443.0" r="2.74" fill="url(#gOrP)"/>
<circle cx="332.5" cy="383.7" r="2.74" fill="url(#gOrP)"/>
<circle cx="320.9" cy="443.2" r="2.74" fill="url(#gOrP)"/>
<circle cx="323.5" cy="437.7" r="2.74" fill="url(#gOrP)"/>
<circle cx="311.8" cy="392.5" r="2.74" fill="url(#gOrP)"/>
<circle cx="331.4" cy="395.2" r="2.75" fill="url(#gOrP)"/>
<circle cx="347.2" cy="383.2" r="2.75" fill="url(#gOrP)"/>
<circle cx="361.1" cy="398.6" r="2.75" fill="url(#gOrP)"/>
<circle cx="352.8" cy="392.4" r="2.75" fill="url(#gOrP)"/>
<circle cx="323.3" cy="376.5" r="2.75" fill="url(#gOrP)"/>
<circle cx="309.5" cy="431.5" r="2.75" fill="url(#gOrP)"/>
<circle cx="318.7" cy="406.4" r="2.75" fill="url(#gOrP)"/>
<circle cx="354.0" cy="385.8" r="2.75" fill="url(#gOrP)"/>
<circle cx="360.4" cy="397.5" r="2.75" fill="url(#gOrP)"/>
<circle cx="345.1" cy="414.6" r="2.75" fill="url(#gOrP)"/>
<circle cx="298.4" cy="413.7" r="2.75" fill="url(#gOrP)"/>
<circle cx="344.7" cy="387.8" r="2.75" fill="url(#gOrP)"/>
<circle cx="343.8" cy="380.9" r="2.75" fill="url(#gOrP)"/>
<circle cx="323.8" cy="409.5" r="2.75" fill="url(#gOrP)"/>
<circle cx="340.1" cy="429.8" r="2.75" fill="url(#gOrP)"/>
<circle cx="355.9" cy="387.8" r="2.75" fill="url(#gOrP)"/>
<circle cx="301.6" cy="396.6" r="2.75" fill="url(#gOrP)"/>
<circle cx="354.4" cy="390.8" r="2.75" fill="url(#gOrP)"/>
<circle cx="349.8" cy="403.7" r="2.75" fill="url(#gOrP)"/>
<circle cx="325.9" cy="426.0" r="2.75" fill="url(#gOrP)"/>
<circle cx="358.3" cy="416.3" r="2.75" fill="url(#gOrP)"/>
<circle cx="327.3" cy="409.3" r="2.76" fill="url(#gOrP)"/>
<circle cx="345.6" cy="388.5" r="2.76" fill="url(#gOrP)"/>
<circle cx="327.6" cy="419.6" r="2.76" fill="url(#gOrP)"/>
<circle cx="352.2" cy="383.3" r="2.76" fill="url(#gOrP)"/>
<circle cx="319.5" cy="442.6" r="2.76" fill="url(#gOrP)"/>
<circle cx="318.4" cy="424.4" r="2.76" fill="url(#gOrP)"/>
<circle cx="332.7" cy="417.2" r="2.76" fill="url(#gOrP)"/>
<circle cx="345.5" cy="429.2" r="2.76" fill="url(#gOrP)"/>
<circle cx="353.0" cy="422.2" r="2.76" fill="url(#gOrP)"/>
<circle cx="354.1" cy="383.1" r="2.76" fill="url(#gOrP)"/>
<circle cx="356.6" cy="403.1" r="2.76" fill="url(#gOrP)"/>
<circle cx="366.0" cy="415.6" r="2.76" fill="url(#gOrP)"/>
<circle cx="315.6" cy="384.8" r="2.76" fill="url(#gOrP)"/>
<circle cx="296.9" cy="396.3" r="2.76" fill="url(#gOrP)"/>
<circle cx="307.8" cy="421.6" r="2.76" fill="url(#gOrP)"/>
<circle cx="360.0" cy="413.1" r="2.76" fill="url(#gOrP)"/>
<circle cx="311.6" cy="388.0" r="2.76" fill="url(#gOrP)"/>
<circle cx="332.1" cy="441.9" r="2.76" fill="url(#gOrP)"/>
<circle cx="321.5" cy="441.2" r="2.76" fill="url(#gOrP)"/>
<circle cx="335.2" cy="414.9" r="2.76" fill="url(#gOrP)"/>
<circle cx="353.8" cy="430.7" r="2.76" fill="url(#gOrP)"/>
<circle cx="349.0" cy="391.0" r="2.76" fill="url(#gOrP)"/>
<circle cx="368.4" cy="417.7" r="2.76" fill="url(#gOrP)"/>
<circle cx="339.6" cy="387.8" r="2.77" fill="url(#gOrP)"/>
<circle cx="351.3" cy="426.8" r="2.77" fill="url(#gOrP)"/>
<circle cx="358.3" cy="424.7" r="2.77" fill="url(#gOrP)"/>
<circle cx="330.4" cy="422.0" r="2.77" fill="url(#gOrP)"/>
<circle cx="365.1" cy="425.3" r="2.77" fill="url(#gOrP)"/>
<circle cx="301.7" cy="429.7" r="2.77" fill="url(#gOrP)"/>
<circle cx="312.3" cy="436.5" r="2.77" fill="url(#gOrP)"/>
<circle cx="361.0" cy="433.3" r="2.77" fill="url(#gOrP)"/>
<circle cx="369.9" cy="433.0" r="2.77" fill="url(#gOrP)"/>
<circle cx="316.7" cy="403.2" r="2.77" fill="url(#gOrP)"/>
<circle cx="354.2" cy="385.8" r="2.77" fill="url(#gOrP)"/>
<circle cx="295.5" cy="414.9" r="2.77" fill="url(#gOrP)"/>
<circle cx="323.9" cy="412.7" r="2.78" fill="url(#gOrP)"/>
<circle cx="357.0" cy="416.4" r="2.78" fill="url(#gOrP)"/>
<circle cx="322.5" cy="429.4" r="2.78" fill="url(#gOrP)"/>
<circle cx="331.4" cy="396.6" r="2.78" fill="url(#gOrP)"/>
<circle cx="308.0" cy="434.3" r="2.78" fill="url(#gOrP)"/>
<circle cx="318.9" cy="394.7" r="2.78" fill="url(#gOrP)"/>
<circle cx="334.0" cy="380.4" r="2.78" fill="url(#gOrP)"/>
<circle cx="341.9" cy="406.7" r="2.78" fill="url(#gOrP)"/>
<circle cx="331.2" cy="420.7" r="2.78" fill="url(#gOrP)"/>
<circle cx="307.7" cy="395.6" r="2.78" fill="url(#gOrP)"/>
<circle cx="351.7" cy="389.8" r="2.78" fill="url(#gOrP)"/>
<circle cx="329.5" cy="416.7" r="2.78" fill="url(#gOrP)"/>
<circle cx="326.6" cy="420.8" r="2.78" fill="url(#gOrP)"/>
<circle cx="368.5" cy="422.9" r="2.78" fill="url(#gOrP)"/>
<circle cx="306.5" cy="393.7" r="2.78" fill="url(#gOrP)"/>
<circle cx="325.4" cy="390.4" r="2.78" fill="url(#gOrP)"/>
<circle cx="362.8" cy="419.8" r="2.79" fill="url(#gOrP)"/>
<circle cx="346.7" cy="406.8" r="2.79" fill="url(#gOrP)"/>
<circle cx="315.1" cy="391.0" r="2.79" fill="url(#gOrP)"/>
<circle cx="340.7" cy="445.2" r="2.79" fill="url(#gOrP)"/>
<circle cx="339.0" cy="371.3" r="2.79" fill="url(#gOrP)"/>
<circle cx="348.0" cy="415.7" r="2.79" fill="url(#gOrP)"/>
<circle cx="300.4" cy="396.4" r="2.79" fill="url(#gOrP)"/>
<circle cx="364.2" cy="379.5" r="2.79" fill="url(#gOrP)"/>
<circle cx="319.3" cy="383.1" r="2.79" fill="url(#gOrP)"/>
<circle cx="314.9" cy="411.5" r="2.79" fill="url(#gOrP)"/>
<circle cx="356.3" cy="385.4" r="2.79" fill="url(#gOrP)"/>
<circle cx="354.6" cy="398.4" r="2.79" fill="url(#gOrP)"/>
<circle cx="326.3" cy="416.5" r="2.79" fill="url(#gOrP)"/>
<circle cx="352.3" cy="392.1" r="2.79" fill="url(#gOrP)"/>
<circle cx="303.6" cy="388.7" r="2.80" fill="url(#gOrP)"/>
<circle cx="346.1" cy="398.5" r="2.80" fill="url(#gOrP)"/>
<circle cx="361.4" cy="431.1" r="2.80" fill="url(#gOrP)"/>
<circle cx="357.2" cy="420.1" r="2.80" fill="url(#gOrP)"/>
<circle cx="319.5" cy="442.9" r="2.80" fill="url(#gOrP)"/>
<circle cx="345.5" cy="396.8" r="2.80" fill="url(#gOrP)"/>
<circle cx="362.3" cy="391.9" r="2.80" fill="url(#gOrP)"/>
<circle cx="324.0" cy="400.6" r="2.80" fill="url(#gOrP)"/>
<circle cx="315.1" cy="439.1" r="2.80" fill="url(#gOrP)"/>
<circle cx="320.0" cy="388.4" r="2.80" fill="url(#gOrP)"/>
<circle cx="342.7" cy="407.5" r="2.80" fill="url(#gOrP)"/>
<circle cx="326.0" cy="373.6" r="2.80" fill="url(#gOrP)"/>
<circle cx="338.4" cy="406.9" r="2.80" fill="url(#gOrP)"/>
<circle cx="351.3" cy="372.2" r="2.80" fill="url(#gOrP)"/>
<circle cx="346.0" cy="406.6" r="2.80" fill="url(#gOrP)"/>
<circle cx="317.8" cy="402.6" r="2.81" fill="url(#gOrP)"/>
<circle cx="333.9" cy="423.6" r="2.81" fill="url(#gOrP)"/>
<circle cx="318.7" cy="441.0" r="2.81" fill="url(#gOrP)"/>
<circle cx="369.2" cy="418.2" r="2.81" fill="url(#gOrP)"/>
<circle cx="312.9" cy="389.2" r="2.81" fill="url(#gOrP)"/>
<circle cx="333.7" cy="445.9" r="2.81" fill="url(#gOrP)"/>
<circle cx="347.1" cy="416.6" r="2.81" fill="url(#gOrP)"/>
<circle cx="334.8" cy="423.0" r="2.81" fill="url(#gOrP)"/>
<circle cx="320.5" cy="420.0" r="2.81" fill="url(#gOrP)"/>
<circle cx="311.3" cy="442.2" r="2.81" fill="url(#gOrP)"/>
<circle cx="359.3" cy="390.7" r="2.81" fill="url(#gOrP)"/>
<circle cx="346.8" cy="437.8" r="2.81" fill="url(#gOrP)"/>
<circle cx="302.6" cy="396.2" r="2.81" fill="url(#gOrP)"/>
<circle cx="361.9" cy="379.8" r="2.81" fill="url(#gOrP)"/>
<circle cx="365.0" cy="417.3" r="2.81" fill="url(#gOrP)"/>
<circle cx="374.5" cy="402.6" r="2.81" fill="url(#gOrP)"/>
<circle cx="365.5" cy="431.6" r="2.81" fill="url(#gOrP)"/>
<circle cx="317.7" cy="416.8" r="2.81" fill="url(#gOrP)"/>
<circle cx="348.2" cy="385.9" r="2.82" fill="url(#gOrP)"/>
<circle cx="348.9" cy="437.3" r="2.82" fill="url(#gOrP)"/>
<circle cx="334.6" cy="412.9" r="2.82" fill="url(#gOrP)"/>
<circle cx="345.2" cy="422.4" r="2.82" fill="url(#gOrP)"/>
<circle cx="310.8" cy="382.4" r="2.82" fill="url(#gOrP)"/>
<circle cx="319.9" cy="442.7" r="2.82" fill="url(#gOrP)"/>
<circle cx="350.2" cy="391.3" r="2.82" fill="url(#gOrP)"/>
<circle cx="336.9" cy="411.6" r="2.82" fill="url(#gOrP)"/>
<circle cx="317.5" cy="422.2" r="2.82" fill="url(#gOrP)"/>
<circle cx="332.8" cy="371.7" r="2.82" fill="url(#gOrP)"/>
<circle cx="367.5" cy="418.4" r="2.82" fill="url(#gOrP)"/>
<circle cx="362.9" cy="395.0" r="2.82" fill="url(#gOrP)"/>
<circle cx="372.6" cy="425.5" r="2.82" fill="url(#gOrP)"/>
<circle cx="335.8" cy="388.6" r="2.82" fill="url(#gOrP)"/>
<circle cx="368.6" cy="392.9" r="2.82" fill="url(#gOrP)"/>
<circle cx="335.0" cy="381.4" r="2.82" fill="url(#gOrP)"/>
<circle cx="314.0" cy="399.5" r="2.82" fill="url(#gOrP)"/>
<circle cx="341.1" cy="397.7" r="2.82" fill="url(#gOrP)"/>
<circle cx="302.3" cy="428.6" r="2.83" fill="url(#gOrP)"/>
<circle cx="311.1" cy="400.9" r="2.83" fill="url(#gOrP)"/>
<circle cx="363.2" cy="391.5" r="2.83" fill="url(#gOrP)"/>
<circle cx="352.4" cy="443.3" r="2.83" fill="url(#gOrP)"/>
<circle cx="353.8" cy="392.6" r="2.83" fill="url(#gOrP)"/>
<circle cx="299.2" cy="387.3" r="2.83" fill="url(#gOrP)"/>
<circle cx="321.8" cy="426.7" r="2.84" fill="url(#gOrP)"/>
<circle cx="356.5" cy="396.3" r="2.84" fill="url(#gOrP)"/>
<circle cx="295.9" cy="428.9" r="2.84" fill="url(#gOrP)"/>
<circle cx="317.5" cy="415.7" r="2.84" fill="url(#gOrP)"/>
<circle cx="352.3" cy="437.1" r="2.84" fill="url(#gOrP)"/>
<circle cx="320.4" cy="401.7" r="2.84" fill="url(#gOrP)"/>
<circle cx="336.5" cy="416.3" r="2.84" fill="url(#gOrP)"/>
<circle cx="323.7" cy="367.8" r="2.84" fill="url(#gOrP)"/>
<circle cx="306.0" cy="386.1" r="2.84" fill="url(#gOrP)"/>
<circle cx="293.5" cy="408.3" r="2.84" fill="url(#gOrP)"/>
<circle cx="306.0" cy="407.5" r="2.84" fill="url(#gOrP)"/>
<circle cx="341.6" cy="450.9" r="2.84" fill="url(#gOrP)"/>
<circle cx="370.9" cy="415.1" r="2.84" fill="url(#gOrP)"/>
<circle cx="301.1" cy="420.5" r="2.84" fill="url(#gOrP)"/>
<circle cx="356.7" cy="424.5" r="2.84" fill="url(#gOrP)"/>
<circle cx="293.4" cy="411.8" r="2.84" fill="url(#gOrP)"/>
<circle cx="324.7" cy="401.6" r="2.85" fill="url(#gOrP)"/>
<circle cx="364.6" cy="391.7" r="2.85" fill="url(#gOrP)"/>
<circle cx="315.9" cy="390.9" r="2.85" fill="url(#gOrP)"/>
<circle cx="320.9" cy="375.3" r="2.85" fill="url(#gOrP)"/>
<circle cx="335.7" cy="409.5" r="2.85" fill="url(#gOrP)"/>
<circle cx="366.5" cy="399.1" r="2.85" fill="url(#gOrP)"/>
<circle cx="324.4" cy="393.6" r="2.85" fill="url(#gOrP)"/>
<circle cx="374.9" cy="400.6" r="2.85" fill="url(#gOrP)"/>
<circle cx="304.4" cy="403.4" r="2.85" fill="url(#gOrP)"/>
<circle cx="347.8" cy="412.2" r="2.85" fill="url(#gOrP)"/>
<circle cx="367.3" cy="383.4" r="2.85" fill="url(#gOrP)"/>
<circle cx="345.3" cy="389.2" r="2.85" fill="url(#gOrP)"/>
<circle cx="364.0" cy="435.3" r="2.86" fill="url(#gOrP)"/>
<circle cx="306.1" cy="433.6" r="2.86" fill="url(#gOrP)"/>
<circle cx="315.1" cy="430.5" r="2.86" fill="url(#gOrP)"/>
<circle cx="309.0" cy="426.3" r="2.86" fill="url(#gOrP)"/>
<circle cx="320.6" cy="436.8" r="2.86" fill="url(#gOrP)"/>
<circle cx="346.3" cy="387.1" r="2.86" fill="url(#gOrP)"/>
<circle cx="328.5" cy="428.7" r="2.86" fill="url(#gOrP)"/>
<circle cx="361.2" cy="385.5" r="2.86" fill="url(#gOrP)"/>
<circle cx="326.9" cy="394.6" r="2.86" fill="url(#gOrP)"/>
<circle cx="363.3" cy="381.1" r="2.86" fill="url(#gOrP)"/>
<circle cx="369.6" cy="402.7" r="2.86" fill="url(#gOrP)"/>
<circle cx="336.7" cy="373.1" r="2.86" fill="url(#gOrP)"/>
<circle cx="301.5" cy="410.1" r="2.86" fill="url(#gOrP)"/>
<circle cx="358.5" cy="430.4" r="2.86" fill="url(#gOrP)"/>
<circle cx="336.5" cy="381.3" r="2.86" fill="url(#gOrP)"/>
<circle cx="352.1" cy="443.7" r="2.86" fill="url(#gOrP)"/>
<circle cx="354.4" cy="433.0" r="2.86" fill="url(#gOrP)"/>
<circle cx="309.3" cy="396.4" r="2.86" fill="url(#gOrP)"/>
<circle cx="346.8" cy="406.7" r="2.86" fill="url(#gOrP)"/>
<circle cx="341.4" cy="452.3" r="2.86" fill="url(#gOrP)"/>
<circle cx="331.7" cy="445.3" r="2.86" fill="url(#gOrP)"/>
<circle cx="335.9" cy="371.1" r="2.86" fill="url(#gOrP)"/>
<circle cx="375.8" cy="409.8" r="2.86" fill="url(#gOrP)"/>
<circle cx="307.3" cy="389.0" r="2.86" fill="url(#gOrP)"/>
<circle cx="295.4" cy="415.3" r="2.86" fill="url(#gOrP)"/>
<circle cx="317.2" cy="372.2" r="2.87" fill="url(#gOrP)"/>
<circle cx="304.1" cy="392.8" r="2.87" fill="url(#gOrP)"/>
<circle cx="293.6" cy="422.8" r="2.87" fill="url(#gOrP)"/>
<circle cx="309.5" cy="412.5" r="2.87" fill="url(#gOrP)"/>
<circle cx="310.0" cy="401.5" r="2.87" fill="url(#gOrP)"/>
<circle cx="340.0" cy="444.6" r="2.87" fill="url(#gOrP)"/>
<circle cx="311.1" cy="382.3" r="2.87" fill="url(#gOrP)"/>
<circle cx="359.6" cy="398.8" r="2.87" fill="url(#gOrP)"/>
<circle cx="333.9" cy="428.6" r="2.87" fill="url(#gOrP)"/>
<circle cx="308.7" cy="425.5" r="2.87" fill="url(#gOrP)"/>
<circle cx="348.0" cy="402.2" r="2.87" fill="url(#gOrP)"/>
<circle cx="291.9" cy="410.3" r="2.87" fill="url(#gOrP)"/>
<circle cx="343.4" cy="400.5" r="2.87" fill="url(#gOrP)"/>
<circle cx="331.1" cy="431.2" r="2.87" fill="url(#gOrP)"/>
<circle cx="342.5" cy="412.7" r="2.87" fill="url(#gOrP)"/>
<circle cx="342.8" cy="418.5" r="2.87" fill="url(#gOrP)"/>
<circle cx="347.1" cy="434.5" r="2.87" fill="url(#gOrP)"/>
<circle cx="311.6" cy="385.7" r="2.87" fill="url(#gOrP)"/>
<circle cx="361.0" cy="436.5" r="2.87" fill="url(#gOrP)"/>
<circle cx="328.4" cy="375.9" r="2.88" fill="url(#gOrP)"/>
<circle cx="326.3" cy="442.6" r="2.88" fill="url(#gOrP)"/>
<circle cx="360.7" cy="434.1" r="2.88" fill="url(#gOrP)"/>
<circle cx="315.7" cy="412.4" r="2.88" fill="url(#gOrP)"/>
<circle cx="335.2" cy="390.5" r="2.88" fill="url(#gOrP)"/>
<circle cx="337.0" cy="379.4" r="2.88" fill="url(#gOrP)"/>
<circle cx="327.5" cy="412.1" r="2.88" fill="url(#gOrP)"/>
<circle cx="300.8" cy="395.9" r="2.88" fill="url(#gOrP)"/>
<circle cx="361.5" cy="423.0" r="2.88" fill="url(#gOrP)"/>
<circle cx="293.0" cy="397.8" r="2.88" fill="url(#gOrP)"/>
<circle cx="300.8" cy="437.6" r="2.88" fill="url(#gOrP)"/>
<circle cx="328.2" cy="372.3" r="2.88" fill="url(#gOrP)"/>
<circle cx="309.7" cy="421.2" r="2.88" fill="url(#gOrP)"/>
<circle cx="346.1" cy="443.1" r="2.89" fill="url(#gOrP)"/>
<circle cx="368.4" cy="413.0" r="2.89" fill="url(#gOrP)"/>
<circle cx="308.6" cy="394.4" r="2.89" fill="url(#gOrP)"/>
<circle cx="348.2" cy="386.6" r="2.89" fill="url(#gOrP)"/>
<circle cx="352.1" cy="406.3" r="2.89" fill="url(#gOrP)"/>
<circle cx="333.4" cy="400.3" r="2.89" fill="url(#gOrP)"/>
<circle cx="340.4" cy="451.9" r="2.89" fill="url(#gOrP)"/>
<circle cx="374.1" cy="408.2" r="2.89" fill="url(#gOrP)"/>
<circle cx="379.5" cy="412.0" r="2.89" fill="url(#gOrP)"/>
<circle cx="328.3" cy="456.0" r="2.89" fill="url(#gOrP)"/>
<circle cx="322.7" cy="407.8" r="2.89" fill="url(#gOrP)"/>
<circle cx="331.1" cy="379.7" r="2.89" fill="url(#gOrP)"/>
<circle cx="353.0" cy="397.9" r="2.90" fill="url(#gOrP)"/>
<circle cx="310.4" cy="404.4" r="2.90" fill="url(#gOrP)"/>
<circle cx="345.3" cy="396.2" r="2.90" fill="url(#gOrP)"/>
<circle cx="299.2" cy="420.2" r="2.90" fill="url(#gOrP)"/>
<circle cx="322.6" cy="413.4" r="2.90" fill="url(#gOrP)"/>
<circle cx="361.0" cy="409.1" r="2.90" fill="url(#gOrP)"/>
<circle cx="291.1" cy="417.2" r="2.90" fill="url(#gOrP)"/>
<circle cx="359.3" cy="419.2" r="2.90" fill="url(#gOrP)"/>
<circle cx="371.5" cy="400.9" r="2.90" fill="url(#gOrP)"/>
<circle cx="339.3" cy="399.3" r="2.90" fill="url(#gOrP)"/>
<circle cx="302.2" cy="410.5" r="2.90" fill="url(#gOrP)"/>
<circle cx="327.0" cy="448.0" r="2.90" fill="url(#gOrP)"/>
<circle cx="339.0" cy="439.9" r="2.90" fill="url(#gOrP)"/>
<circle cx="324.1" cy="408.9" r="2.90" fill="url(#gOrP)"/>
<circle cx="360.4" cy="433.0" r="2.90" fill="url(#gOrP)"/>
<circle cx="361.6" cy="402.9" r="2.90" fill="url(#gOrP)"/>
<circle cx="335.0" cy="372.6" r="2.90" fill="url(#gOrP)"/>
<circle cx="300.3" cy="413.2" r="2.90" fill="url(#gOrP)"/>
<circle cx="349.9" cy="372.3" r="2.90" fill="url(#gOrP)"/>
<circle cx="358.7" cy="430.9" r="2.90" fill="url(#gOrP)"/>
<circle cx="329.0" cy="420.9" r="2.90" fill="url(#gOrP)"/>
<circle cx="301.1" cy="406.3" r="2.91" fill="url(#gOrP)"/>
<circle cx="365.1" cy="415.8" r="2.91" fill="url(#gOrP)"/>
<circle cx="303.7" cy="392.5" r="2.91" fill="url(#gOrP)"/>
<circle cx="341.6" cy="402.1" r="2.91" fill="url(#gOrP)"/>
<circle cx="320.3" cy="421.0" r="2.91" fill="url(#gOrP)"/>
<circle cx="338.5" cy="442.2" r="2.91" fill="url(#gOrP)"/>
<circle cx="354.6" cy="387.6" r="2.91" fill="url(#gOrP)"/>
<circle cx="344.5" cy="389.3" r="2.91" fill="url(#gOrP)"/>
<circle cx="321.5" cy="437.5" r="2.91" fill="url(#gOrP)"/>
<circle cx="331.7" cy="430.4" r="2.91" fill="url(#gOrP)"/>
<circle cx="304.1" cy="397.0" r="2.91" fill="url(#gOrP)"/>
<circle cx="313.7" cy="400.1" r="2.91" fill="url(#gOrP)"/>
<circle cx="329.5" cy="389.9" r="2.91" fill="url(#gOrP)"/>
<circle cx="326.5" cy="403.6" r="2.91" fill="url(#gOrP)"/>
<circle cx="353.1" cy="401.4" r="2.92" fill="url(#gOrP)"/>
<circle cx="378.7" cy="425.2" r="2.92" fill="url(#gOrP)"/>
<circle cx="314.5" cy="379.9" r="2.92" fill="url(#gOrP)"/>
<circle cx="360.5" cy="384.0" r="2.92" fill="url(#gOrP)"/>
<circle cx="336.7" cy="413.2" r="2.92" fill="url(#gOrP)"/>
<circle cx="311.3" cy="417.6" r="2.92" fill="url(#gOrP)"/>
<circle cx="322.4" cy="446.3" r="2.92" fill="url(#gOrP)"/>
<circle cx="359.7" cy="376.3" r="2.92" fill="url(#gOrP)"/>
<circle cx="350.9" cy="406.8" r="2.92" fill="url(#gOrP)"/>
<circle cx="361.3" cy="435.8" r="2.92" fill="url(#gOrP)"/>
<circle cx="335.1" cy="413.5" r="2.92" fill="url(#gOrP)"/>
<circle cx="362.1" cy="404.1" r="2.92" fill="url(#gOrP)"/>
<circle cx="363.6" cy="419.0" r="2.92" fill="url(#gOrP)"/>
<circle cx="350.9" cy="389.5" r="2.93" fill="url(#gOrP)"/>
<circle cx="336.3" cy="382.6" r="2.93" fill="url(#gOrP)"/>
<circle cx="356.8" cy="392.9" r="2.93" fill="url(#gOrP)"/>
<circle cx="352.0" cy="442.2" r="2.93" fill="url(#gOrP)"/>
<circle cx="363.2" cy="388.2" r="2.93" fill="url(#gOrP)"/>
<circle cx="352.9" cy="407.5" r="2.93" fill="url(#gOrP)"/>
<circle cx="310.0" cy="434.9" r="2.93" fill="url(#gOrP)"/>
<circle cx="347.9" cy="415.0" r="2.93" fill="url(#gOrP)"/>
<circle cx="294.5" cy="406.2" r="2.93" fill="url(#gOrP)"/>
<circle cx="299.6" cy="420.0" r="2.93" fill="url(#gOrP)"/>
<circle cx="298.0" cy="401.6" r="2.93" fill="url(#gOrP)"/>
<circle cx="339.5" cy="373.6" r="2.93" fill="url(#gOrP)"/>
<circle cx="329.6" cy="395.7" r="2.93" fill="url(#gOrP)"/>
<circle cx="308.4" cy="410.8" r="2.93" fill="url(#gOrP)"/>
<circle cx="297.5" cy="428.6" r="2.93" fill="url(#gOrP)"/>
<circle cx="319.8" cy="372.5" r="2.93" fill="url(#gOrP)"/>
<circle cx="352.4" cy="390.6" r="2.93" fill="url(#gOrP)"/>
<circle cx="321.5" cy="444.3" r="2.93" fill="url(#gOrP)"/>
<circle cx="331.7" cy="430.2" r="2.93" fill="url(#gOrP)"/>
<circle cx="363.2" cy="427.0" r="2.93" fill="url(#gOrP)"/>
<circle cx="311.9" cy="406.8" r="2.94" fill="url(#gOrP)"/>
<circle cx="364.9" cy="408.1" r="2.94" fill="url(#gOrP)"/>
<circle cx="345.5" cy="446.2" r="2.94" fill="url(#gOrP)"/>
<circle cx="351.4" cy="399.1" r="2.94" fill="url(#gOrP)"/>
<circle cx="300.6" cy="424.4" r="2.94" fill="url(#gOrP)"/>
<circle cx="363.3" cy="393.3" r="2.94" fill="url(#gOrP)"/>
<circle cx="324.2" cy="424.4" r="2.94" fill="url(#gOrP)"/>
<circle cx="324.2" cy="423.7" r="2.94" fill="url(#gOrP)"/>
<circle cx="338.4" cy="388.6" r="2.94" fill="url(#gOrP)"/>
<circle cx="340.6" cy="402.9" r="2.94" fill="url(#gOrP)"/>
<circle cx="371.5" cy="404.6" r="2.94" fill="url(#gOrP)"/>
<circle cx="324.7" cy="416.8" r="2.94" fill="url(#gOrP)"/>
<circle cx="351.6" cy="388.4" r="2.94" fill="url(#gOrP)"/>
<circle cx="335.7" cy="375.6" r="2.94" fill="url(#gOrP)"/>
<circle cx="359.8" cy="440.1" r="2.94" fill="url(#gOrP)"/>
<circle cx="305.3" cy="418.1" r="2.95" fill="url(#gOrP)"/>
<circle cx="341.1" cy="448.9" r="2.95" fill="url(#gOrP)"/>
<circle cx="322.0" cy="408.2" r="2.95" fill="url(#gOrP)"/>
<circle cx="329.0" cy="433.4" r="2.95" fill="url(#gOrP)"/>
<circle cx="343.2" cy="406.6" r="2.95" fill="url(#gOrP)"/>
<circle cx="359.7" cy="385.8" r="2.95" fill="url(#gOrP)"/>
<circle cx="347.9" cy="399.9" r="2.95" fill="url(#gOrP)"/>
<circle cx="305.1" cy="417.1" r="2.95" fill="url(#gOrP)"/>
<circle cx="316.4" cy="388.3" r="2.95" fill="url(#gOrP)"/>
<circle cx="317.2" cy="404.1" r="2.95" fill="url(#gOrP)"/>
<circle cx="297.0" cy="413.1" r="2.95" fill="url(#gOrP)"/>
<circle cx="320.2" cy="407.0" r="2.95" fill="url(#gOrP)"/>
<circle cx="321.2" cy="386.3" r="2.95" fill="url(#gOrP)"/>
<circle cx="362.7" cy="441.8" r="2.95" fill="url(#gOrP)"/>
<circle cx="306.9" cy="407.1" r="2.95" fill="url(#gOrP)"/>
<circle cx="310.8" cy="382.0" r="2.95" fill="url(#gOrP)"/>
<circle cx="335.0" cy="401.6" r="2.95" fill="url(#gOrP)"/>
<circle cx="316.3" cy="442.0" r="2.95" fill="url(#gOrP)"/>
<circle cx="311.5" cy="409.7" r="2.95" fill="url(#gOrP)"/>
<circle cx="362.9" cy="437.3" r="2.95" fill="url(#gOrP)"/>
<circle cx="324.4" cy="378.5" r="2.95" fill="url(#gOrP)"/>
<circle cx="350.3" cy="392.5" r="2.95" fill="url(#gOrP)"/>
<circle cx="331.6" cy="386.1" r="2.96" fill="url(#gOrP)"/>
<circle cx="348.1" cy="374.8" r="2.96" fill="url(#gOrP)"/>
<circle cx="338.7" cy="424.4" r="2.96" fill="url(#gOrP)"/>
<circle cx="364.1" cy="392.3" r="2.96" fill="url(#gOrP)"/>
<circle cx="324.6" cy="382.9" r="2.96" fill="url(#gOrP)"/>
<circle cx="313.0" cy="370.7" r="2.96" fill="url(#gOrP)"/>
<circle cx="318.5" cy="400.6" r="2.97" fill="url(#gOrP)"/>
<circle cx="296.7" cy="426.0" r="2.97" fill="url(#gOrP)"/>
<circle cx="370.9" cy="421.1" r="2.97" fill="url(#gOrP)"/>
<circle cx="334.3" cy="439.3" r="2.97" fill="url(#gOrP)"/>
<circle cx="321.6" cy="440.2" r="2.97" fill="url(#gOrP)"/>
<circle cx="301.1" cy="419.0" r="2.97" fill="url(#gOrP)"/>
<circle cx="298.2" cy="384.7" r="2.98" fill="url(#gOrP)"/>
<circle cx="364.2" cy="416.3" r="2.98" fill="url(#gOrP)"/>
<circle cx="349.7" cy="395.2" r="2.98" fill="url(#gOrP)"/>
<circle cx="322.1" cy="423.6" r="2.98" fill="url(#gOrP)"/>
<circle cx="327.0" cy="371.0" r="2.98" fill="url(#gOrP)"/>
<circle cx="306.0" cy="382.5" r="2.98" fill="url(#gOrP)"/>
<circle cx="339.6" cy="377.9" r="2.98" fill="url(#gOrP)"/>
<circle cx="322.1" cy="424.9" r="2.98" fill="url(#gOrP)"/>
<circle cx="350.9" cy="411.0" r="2.98" fill="url(#gOrP)"/>
<circle cx="312.5" cy="404.3" r="2.98" fill="url(#gOrP)"/>
<circle cx="360.5" cy="440.7" r="2.98" fill="url(#gOrP)"/>
<circle cx="366.4" cy="440.1" r="2.98" fill="url(#gOrP)"/>
<circle cx="364.6" cy="424.0" r="2.98" fill="url(#gOrP)"/>
<circle cx="299.8" cy="422.0" r="2.98" fill="url(#gOrP)"/>
<circle cx="367.9" cy="431.9" r="2.98" fill="url(#gOrP)"/>
<circle cx="329.4" cy="442.2" r="2.98" fill="url(#gOrP)"/>
<circle cx="332.1" cy="404.5" r="2.98" fill="url(#gOrP)"/>
<circle cx="314.9" cy="381.6" r="2.98" fill="url(#gOrP)"/>
<circle cx="350.3" cy="451.8" r="2.98" fill="url(#gOrP)"/>
<circle cx="306.6" cy="418.0" r="2.98" fill="url(#gOrP)"/>
<circle cx="336.8" cy="448.6" r="2.98" fill="url(#gOrP)"/>
<circle cx="354.3" cy="412.1" r="2.98" fill="url(#gOrP)"/>
<circle cx="310.9" cy="417.1" r="2.98" fill="url(#gOrP)"/>
<circle cx="323.9" cy="399.2" r="2.98" fill="url(#gOrP)"/>
<circle cx="324.9" cy="431.9" r="2.98" fill="url(#gOrP)"/>
<circle cx="344.1" cy="411.6" r="2.98" fill="url(#gOrP)"/>
<circle cx="355.7" cy="420.5" r="2.99" fill="url(#gOrP)"/>
<circle cx="329.8" cy="432.4" r="2.99" fill="url(#gOrP)"/>
<circle cx="353.5" cy="387.3" r="2.99" fill="url(#gOrP)"/>
<circle cx="343.2" cy="416.8" r="2.99" fill="url(#gOrP)"/>
<circle cx="319.7" cy="382.7" r="2.99" fill="url(#gOrP)"/>
<circle cx="334.6" cy="455.0" r="2.99" fill="url(#gOrP)"/>
<circle cx="360.9" cy="389.8" r="2.99" fill="url(#gOrP)"/>
<circle cx="346.8" cy="419.2" r="2.99" fill="url(#gOrP)"/>
<circle cx="321.4" cy="446.9" r="2.99" fill="url(#gOrP)"/>
<circle cx="373.0" cy="421.1" r="2.99" fill="url(#gOrP)"/>
<circle cx="320.5" cy="403.0" r="3.00" fill="url(#gOrP)"/>
<circle cx="347.2" cy="418.2" r="3.00" fill="url(#gOrP)"/>
<circle cx="325.5" cy="447.4" r="3.00" fill="url(#gOrP)"/>
<circle cx="362.7" cy="396.4" r="3.00" fill="url(#gOrP)"/>
<circle cx="370.0" cy="408.9" r="3.00" fill="url(#gOrP)"/>
<circle cx="307.7" cy="403.1" r="3.00" fill="url(#gOrP)"/>
<circle cx="357.3" cy="381.4" r="3.00" fill="url(#gOrP)"/>
<circle cx="333.0" cy="368.5" r="3.00" fill="url(#gOrP)"/>
<circle cx="337.9" cy="411.0" r="3.00" fill="url(#gOrP)"/>
<circle cx="344.2" cy="437.5" r="3.00" fill="url(#gOrP)"/>
<circle cx="337.0" cy="413.0" r="3.00" fill="url(#gOrP)"/>
<circle cx="303.5" cy="428.3" r="3.00" fill="url(#gOrP)"/>
<circle cx="335.1" cy="440.8" r="3.00" fill="url(#gOrP)"/>
<circle cx="345.5" cy="408.4" r="3.00" fill="url(#gOrP)"/>
<circle cx="326.4" cy="422.1" r="3.00" fill="url(#gOrP)"/>
<circle cx="333.8" cy="425.7" r="3.00" fill="url(#gOrP)"/>
<circle cx="345.5" cy="402.4" r="3.01" fill="url(#gOrP)"/>
<circle cx="358.9" cy="418.7" r="3.01" fill="url(#gOrP)"/>
<circle cx="310.7" cy="420.3" r="3.01" fill="url(#gOrP)"/>
<circle cx="338.2" cy="433.0" r="3.01" fill="url(#gOrP)"/>
<circle cx="352.7" cy="405.3" r="3.01" fill="url(#gOrP)"/>
<circle cx="306.6" cy="438.5" r="3.01" fill="url(#gOrP)"/>
<circle cx="356.2" cy="380.9" r="3.01" fill="url(#gOrP)"/>
<circle cx="319.2" cy="435.6" r="3.01" fill="url(#gOrP)"/>
<circle cx="350.4" cy="419.0" r="3.01" fill="url(#gOrP)"/>
<circle cx="339.9" cy="370.3" r="3.01" fill="url(#gOrP)"/>
<circle cx="320.5" cy="404.4" r="3.01" fill="url(#gOrP)"/>
<circle cx="300.5" cy="406.8" r="3.01" fill="url(#gOrP)"/>
<circle cx="368.8" cy="399.9" r="3.01" fill="url(#gOrP)"/>
<circle cx="335.5" cy="412.5" r="3.01" fill="url(#gOrP)"/>
<circle cx="333.3" cy="448.3" r="3.01" fill="url(#gOrP)"/>
<circle cx="328.1" cy="384.6" r="3.01" fill="url(#gOrP)"/>
<circle cx="338.7" cy="392.9" r="3.01" fill="url(#gOrP)"/>
<circle cx="358.4" cy="416.9" r="3.01" fill="url(#gOrP)"/>
<circle cx="316.9" cy="403.1" r="3.01" fill="url(#gOrP)"/>
<circle cx="339.9" cy="451.0" r="3.01" fill="url(#gOrP)"/>
<circle cx="328.3" cy="428.2" r="3.01" fill="url(#gOrP)"/>
<circle cx="332.5" cy="372.4" r="3.01" fill="url(#gOrP)"/>
<circle cx="313.0" cy="426.6" r="3.02" fill="url(#gOrP)"/>
<circle cx="370.9" cy="422.8" r="3.02" fill="url(#gOrP)"/>
<circle cx="318.6" cy="434.3" r="3.02" fill="url(#gOrP)"/>
<circle cx="327.0" cy="404.2" r="3.02" fill="url(#gOrP)"/>
<circle cx="329.9" cy="372.3" r="3.02" fill="url(#gOrP)"/>
<circle cx="313.7" cy="422.1" r="3.02" fill="url(#gOrP)"/>
<circle cx="315.0" cy="385.9" r="3.02" fill="url(#gOrP)"/>
<circle cx="311.6" cy="416.8" r="3.02" fill="url(#gOrP)"/>
<circle cx="314.9" cy="384.6" r="3.02" fill="url(#gOrP)"/>
<circle cx="340.2" cy="412.9" r="3.02" fill="url(#gOrP)"/>
<circle cx="334.7" cy="443.4" r="3.02" fill="url(#gOrP)"/>
<circle cx="328.9" cy="385.9" r="3.02" fill="url(#gOrP)"/>
<circle cx="300.9" cy="429.3" r="3.02" fill="url(#gOrP)"/>
<circle cx="306.0" cy="391.6" r="3.02" fill="url(#gOrP)"/>
<circle cx="330.0" cy="379.9" r="3.02" fill="url(#gOrP)"/>
<circle cx="319.8" cy="441.0" r="3.02" fill="url(#gOrP)"/>
<circle cx="306.7" cy="421.5" r="3.02" fill="url(#gOrP)"/>
<circle cx="297.7" cy="422.2" r="3.03" fill="url(#gOrP)"/>
<circle cx="361.5" cy="391.6" r="3.03" fill="url(#gOrP)"/>
<circle cx="356.2" cy="388.7" r="3.03" fill="url(#gOrP)"/>
<circle cx="357.2" cy="395.8" r="3.03" fill="url(#gOrP)"/>
<circle cx="344.0" cy="390.8" r="3.03" fill="url(#gOrP)"/>
<circle cx="306.6" cy="418.9" r="3.03" fill="url(#gOrP)"/>
<circle cx="318.6" cy="396.1" r="3.03" fill="url(#gOrP)"/>
<circle cx="352.8" cy="403.6" r="3.03" fill="url(#gOrP)"/>
<circle cx="326.6" cy="385.5" r="3.03" fill="url(#gOrP)"/>
<circle cx="368.4" cy="407.8" r="3.04" fill="url(#gOrP)"/>
<circle cx="317.5" cy="396.8" r="3.04" fill="url(#gOrP)"/>
<circle cx="346.6" cy="372.4" r="3.04" fill="url(#gOrP)"/>
<circle cx="329.3" cy="447.7" r="3.04" fill="url(#gOrP)"/>
<circle cx="370.4" cy="422.8" r="3.04" fill="url(#gOrP)"/>
<circle cx="348.1" cy="382.1" r="3.04" fill="url(#gOrP)"/>
<circle cx="331.1" cy="428.7" r="3.04" fill="url(#gOrP)"/>
<circle cx="339.2" cy="426.5" r="3.04" fill="url(#gOrP)"/>
<circle cx="324.8" cy="406.1" r="3.04" fill="url(#gOrP)"/>
<circle cx="314.8" cy="384.0" r="3.04" fill="url(#gOrP)"/>
<circle cx="298.1" cy="398.9" r="3.04" fill="url(#gOrP)"/>
<circle cx="304.5" cy="439.2" r="3.04" fill="url(#gOrP)"/>
<circle cx="355.9" cy="382.8" r="3.04" fill="url(#gOrP)"/>
<circle cx="311.7" cy="384.8" r="3.04" fill="url(#gOrP)"/>
<circle cx="350.8" cy="413.7" r="3.05" fill="url(#gOrP)"/>
<circle cx="362.4" cy="424.4" r="3.05" fill="url(#gOrP)"/>
<circle cx="304.1" cy="390.1" r="3.05" fill="url(#gOrP)"/>
<circle cx="311.1" cy="422.1" r="3.05" fill="url(#gOrP)"/>
<circle cx="315.6" cy="397.6" r="3.05" fill="url(#gOrP)"/>
<circle cx="341.7" cy="413.6" r="3.05" fill="url(#gOrP)"/>
<circle cx="306.8" cy="388.3" r="3.05" fill="url(#gOrP)"/>
<circle cx="351.1" cy="401.4" r="3.05" fill="url(#gOrP)"/>
<circle cx="339.0" cy="425.4" r="3.05" fill="url(#gOrP)"/>
<circle cx="303.3" cy="426.1" r="3.05" fill="url(#gOrP)"/>
<circle cx="330.4" cy="413.9" r="3.05" fill="url(#gOrP)"/>
<circle cx="338.1" cy="428.6" r="3.05" fill="url(#gOrP)"/>
<circle cx="317.8" cy="380.5" r="3.05" fill="url(#gOrP)"/>
<circle cx="302.5" cy="404.3" r="3.05" fill="url(#gOrP)"/>
<circle cx="354.9" cy="432.3" r="3.06" fill="url(#gOrP)"/>
<circle cx="334.7" cy="416.8" r="3.06" fill="url(#gOrP)"/>
<circle cx="311.2" cy="387.4" r="3.06" fill="url(#gOrP)"/>
<circle cx="347.6" cy="407.6" r="3.06" fill="url(#gOrP)"/>
<circle cx="349.1" cy="402.2" r="3.06" fill="url(#gOrP)"/>
<circle cx="350.7" cy="393.0" r="3.06" fill="url(#gOrP)"/>
<circle cx="322.5" cy="424.4" r="3.06" fill="url(#gOrP)"/>
<circle cx="338.4" cy="433.0" r="3.06" fill="url(#gOrP)"/>
<circle cx="344.5" cy="391.6" r="3.06" fill="url(#gOrP)"/>
<circle cx="360.4" cy="392.8" r="3.06" fill="url(#gOrP)"/>
<circle cx="326.6" cy="405.6" r="3.06" fill="url(#gOrP)"/>
<circle cx="317.9" cy="436.5" r="3.06" fill="url(#gOrP)"/>
<circle cx="329.2" cy="388.2" r="3.07" fill="url(#gOrP)"/>
<circle cx="306.7" cy="424.3" r="3.07" fill="url(#gOrP)"/>
<circle cx="357.2" cy="413.8" r="3.07" fill="url(#gOrP)"/>
<circle cx="338.1" cy="378.8" r="3.07" fill="url(#gOrP)"/>
<circle cx="297.2" cy="403.6" r="3.07" fill="url(#gOrP)"/>
<circle cx="340.8" cy="403.3" r="3.07" fill="url(#gOrP)"/>
<circle cx="335.5" cy="415.5" r="3.07" fill="url(#gOrP)"/>
<circle cx="344.2" cy="439.2" r="3.07" fill="url(#gOrP)"/>
<circle cx="359.9" cy="428.8" r="3.07" fill="url(#gOrP)"/>
<circle cx="335.1" cy="373.9" r="3.07" fill="url(#gOrP)"/>
<circle cx="323.2" cy="394.3" r="3.07" fill="url(#gOrP)"/>
<circle cx="336.0" cy="438.5" r="3.07" fill="url(#gOrP)"/>
<circle cx="351.4" cy="436.4" r="3.07" fill="url(#gOrP)"/>
<circle cx="365.5" cy="409.7" r="3.08" fill="url(#gOrP)"/>
<circle cx="324.2" cy="436.8" r="3.08" fill="url(#gOrP)"/>
<circle cx="340.4" cy="438.9" r="3.08" fill="url(#gOrP)"/>
<circle cx="344.9" cy="402.1" r="3.08" fill="url(#gOrP)"/>
<circle cx="332.3" cy="423.4" r="3.08" fill="url(#gOrP)"/>
<circle cx="334.1" cy="441.1" r="3.08" fill="url(#gOrP)"/>
<circle cx="348.9" cy="419.1" r="3.08" fill="url(#gOrP)"/>
<circle cx="336.3" cy="386.8" r="3.08" fill="url(#gOrP)"/>
<circle cx="310.8" cy="431.4" r="3.08" fill="url(#gOrP)"/>
<circle cx="351.3" cy="385.1" r="3.08" fill="url(#gOrP)"/>
<circle cx="329.3" cy="424.2" r="3.08" fill="url(#gOrP)"/>
<circle cx="329.6" cy="415.4" r="3.08" fill="url(#gOrP)"/>
<circle cx="334.7" cy="386.7" r="3.09" fill="url(#gOrP)"/>
<circle cx="361.5" cy="397.2" r="3.09" fill="url(#gOrP)"/>
<circle cx="355.7" cy="400.2" r="3.09" fill="url(#gOrP)"/>
<circle cx="339.6" cy="396.2" r="3.09" fill="url(#gOrP)"/>
<circle cx="346.1" cy="438.9" r="3.09" fill="url(#gOrP)"/>
<circle cx="342.4" cy="398.3" r="3.09" fill="url(#gOrP)"/>
<circle cx="340.1" cy="422.7" r="3.09" fill="url(#gOrP)"/>
<circle cx="344.3" cy="441.9" r="3.09" fill="url(#gOrP)"/>
<circle cx="306.7" cy="397.6" r="3.09" fill="url(#gOrP)"/>
<circle cx="316.2" cy="389.1" r="3.09" fill="url(#gOrP)"/>
<circle cx="304.4" cy="413.0" r="3.09" fill="url(#gOrP)"/>
<circle cx="328.2" cy="426.7" r="3.10" fill="url(#gOrP)"/>
<circle cx="328.5" cy="442.0" r="3.10" fill="url(#gOrP)"/>
<circle cx="327.4" cy="415.6" r="3.10" fill="url(#gOrP)"/>
<circle cx="330.3" cy="424.3" r="3.10" fill="url(#gOrP)"/>
<circle cx="351.3" cy="432.5" r="3.10" fill="url(#gOrP)"/>
<circle cx="330.8" cy="432.8" r="3.10" fill="url(#gOrP)"/>
<circle cx="306.2" cy="413.6" r="3.10" fill="url(#gOrP)"/>
<circle cx="328.1" cy="410.6" r="3.10" fill="url(#gOrP)"/>
<circle cx="319.1" cy="419.8" r="3.10" fill="url(#gOrP)"/>
<circle cx="330.8" cy="407.7" r="3.10" fill="url(#gOrP)"/>
<circle cx="363.1" cy="395.5" r="3.11" fill="url(#gOrP)"/>
<circle cx="317.6" cy="427.8" r="3.11" fill="url(#gOrP)"/>
<circle cx="331.9" cy="381.5" r="3.11" fill="url(#gOrP)"/>
<circle cx="308.1" cy="402.1" r="3.11" fill="url(#gOrP)"/>
<circle cx="326.6" cy="413.7" r="3.11" fill="url(#gOrP)"/>
<circle cx="326.1" cy="411.2" r="3.11" fill="url(#gOrP)"/>
<circle cx="358.9" cy="429.2" r="3.11" fill="url(#gOrP)"/>
<circle cx="359.1" cy="430.6" r="3.11" fill="url(#gOrP)"/>
<circle cx="338.4" cy="433.3" r="3.12" fill="url(#gOrP)"/>
<circle cx="357.3" cy="417.0" r="3.12" fill="url(#gOrP)"/>
<circle cx="342.9" cy="387.4" r="3.12" fill="url(#gOrP)"/>
<circle cx="354.8" cy="394.2" r="3.12" fill="url(#gOrP)"/>
<circle cx="305.9" cy="414.3" r="3.13" fill="url(#gOrP)"/>
<circle cx="334.1" cy="400.9" r="3.13" fill="url(#gOrP)"/>
<circle cx="325.9" cy="397.5" r="3.13" fill="url(#gOrP)"/>
<circle cx="321.8" cy="394.5" r="3.13" fill="url(#gOrP)"/>
<circle cx="317.9" cy="398.4" r="3.13" fill="url(#gOrP)"/>
<circle cx="318.5" cy="421.9" r="3.13" fill="url(#gOrP)"/>
<circle cx="335.8" cy="417.6" r="3.13" fill="url(#gOrP)"/>
<circle cx="311.8" cy="417.4" r="3.13" fill="url(#gOrP)"/>
<circle cx="325.8" cy="423.5" r="3.13" fill="url(#gOrP)"/>
<circle cx="321.6" cy="386.2" r="3.13" fill="url(#gOrP)"/>
<circle cx="333.6" cy="399.3" r="3.14" fill="url(#gOrP)"/>
<circle cx="328.4" cy="412.0" r="3.14" fill="url(#gOrP)"/>
<circle cx="359.1" cy="421.1" r="3.14" fill="url(#gOrP)"/>
<circle cx="311.8" cy="419.0" r="3.14" fill="url(#gOrP)"/>
<circle cx="349.9" cy="420.6" r="3.14" fill="url(#gOrP)"/>
<circle cx="333.3" cy="396.1" r="3.14" fill="url(#gOrP)"/>
<circle cx="330.7" cy="396.6" r="3.14" fill="url(#gOrP)"/>
<circle cx="333.7" cy="384.1" r="3.14" fill="url(#gOrP)"/>
<circle cx="336.0" cy="426.5" r="3.14" fill="url(#gOrP)"/>
<circle cx="344.2" cy="424.6" r="3.15" fill="url(#gOrP)"/>
<circle cx="340.1" cy="402.4" r="3.15" fill="url(#gOrP)"/>
<circle cx="324.1" cy="428.5" r="3.16" fill="url(#gOrP)"/>
<circle cx="343.4" cy="426.6" r="3.16" fill="url(#gOrP)"/>
<circle cx="342.0" cy="407.0" r="3.16" fill="url(#gOrP)"/>
<circle cx="347.1" cy="422.6" r="3.16" fill="url(#gOrP)"/>
<circle cx="353.4" cy="415.4" r="3.16" fill="url(#gOrP)"/>
<circle cx="323.2" cy="419.8" r="3.16" fill="url(#gOrP)"/>
<circle cx="347.0" cy="414.3" r="3.16" fill="url(#gOrP)"/>
<circle cx="336.4" cy="401.4" r="3.16" fill="url(#gOrP)"/>
<circle cx="324.5" cy="402.0" r="3.17" fill="url(#gOrP)"/>
<circle cx="335.8" cy="403.5" r="3.17" fill="url(#gOrP)"/>
<circle cx="332.0" cy="412.0" r="3.17" fill="url(#gOrP)"/>
<circle cx="340.2" cy="402.7" r="3.19" fill="url(#gOrP)"/>
<text class="t" text-anchor="middle" x="333.6" y="491.7">Electrochemical</text>
<text class="t" text-anchor="middle" x="333.2" y="504.5">activation</text>
<path d="M0,-3.8 A3.8,3.8 0 1,0 0,3.8 C9.9,4.95 17.6,4.69 22,4.800000000000001 C16.5,2.3100000000000005 8.8,-3.13 0,-3.8 Z" fill="url(#dropB)" transform="translate(304.8,366) rotate(-76)"/>
<text class="el" x="285" y="355.7">e<tspan dy="-3.5" dx="0.3" font-size="6.5">−</tspan></text>
<path d="M0,-3.8 A3.8,3.8 0 1,0 0,3.8 C9.9,4.95 17.6,4.69 22,4.800000000000001 C16.5,2.3100000000000005 8.8,-3.13 0,-3.8 Z" fill="url(#dropB)" transform="translate(382.9,356.9) rotate(128)"/>
<text class="el" x="371" y="350.9">e<tspan dy="-3.5" dx="0.3" font-size="6.5">−</tspan></text>
<path d="M0,-3.8 A3.8,3.8 0 1,0 0,3.8 C9.450000000000001,4.63 16.8,3.5699999999999994 21,3.2 C15.75,1.35 8.4,-3.29 0,-3.8 Z" fill="url(#dropG)" transform="translate(276.2,389.2) rotate(169)"/>
<text class="li" x="271.7" y="377.4">Li<tspan dy="-3.5" dx="0.3" font-size="6.5">+</tspan></text>
<path d="M0,-4 A4,4 0 1,0 0,4 C11.700000000000001,3.24 20.8,-1.9600000000000004 26,-4.800000000000001 C19.5,-3.4800000000000004 10.4,-4.28 0,-4 Z" fill="url(#dropB)" transform="translate(289.6,441.7) rotate(130)"/>
<text class="el" x="274.3" y="435.8">e<tspan dy="-3.5" dx="0.3" font-size="6.5">−</tspan></text>
<path d="M0,-3.8 A3.8,3.8 0 1,0 0,3.8 C8.55,4.63 15.200000000000001,3.5699999999999994 19,3.2 C14.25,1.35 7.6000000000000005,-3.29 0,-3.8 Z" fill="url(#dropB)" transform="translate(384.8,444.5) rotate(-171)"/>
<text class="el" x="383.6" y="437.8">e<tspan dy="-3.5" dx="0.3" font-size="6.5">−</tspan></text>
<path d="M0,-3.8 A3.8,3.8 0 1,0 0,3.8 C7.65,4.63 13.600000000000001,3.5699999999999994 17,3.2 C12.75,1.35 6.800000000000001,-3.29 0,-3.8 Z" fill="url(#dropG)" transform="translate(314.8,467.4) rotate(136)"/>
<text class="li" x="289.6" y="468.4">Li<tspan dy="-3.5" dx="0.3" font-size="6.5">+</tspan></text>
<path d="M0,-3.8 A3.8,3.8 0 1,0 0,3.8 C6.525,4.63 11.600000000000001,3.5699999999999994 14.5,3.2 C10.875,1.35 5.800000000000001,-3.29 0,-3.8 Z" fill="url(#dropG)" transform="translate(360.7,462.7) rotate(-128)"/>
<text class="li" x="369.2" y="468.6">Li<tspan dy="-3.5" dx="0.3" font-size="6.5">+</tspan></text>
<text class="t" x="412.7" y="405.8">Many cycles</text>
<g fill="#c4c4c4"><rect x="415.2" y="411" width="5.8" height="6"/><rect x="425.7" y="411" width="5.8" height="6"/><rect x="436.3" y="411" width="5.8" height="6"/><path d="M446.4,411 L452,411 L452,407.8 L469.8,414 L452,420.8 L452,417 L446.4,417 Z"/></g>
<circle cx="557" cy="412" r="48" fill="#c98048"/>
<circle cx="548" cy="372" r="14" fill="url(#gSin)" filter="url(#bump)"/>
<circle cx="548" cy="372" r="13.5" fill="none" stroke="#c07438" stroke-opacity="0.18" stroke-width="1"/>
<circle cx="596" cy="383.5" r="16" fill="url(#gSin)" filter="url(#bump)"/>
<circle cx="596" cy="383.5" r="15.5" fill="none" stroke="#c07438" stroke-opacity="0.18" stroke-width="1"/>
<circle cx="531" cy="381" r="18" fill="url(#gSin)" filter="url(#bump)"/>
<circle cx="531" cy="381" r="17.5" fill="none" stroke="#c07438" stroke-opacity="0.18" stroke-width="1"/>
<circle cx="569" cy="374" r="18" fill="url(#gSin)" filter="url(#bump)"/>
<circle cx="569" cy="374" r="17.5" fill="none" stroke="#c07438" stroke-opacity="0.18" stroke-width="1"/>
<circle cx="515" cy="402" r="16" fill="url(#gSin)" filter="url(#bump)"/>
<circle cx="515" cy="402" r="15.5" fill="none" stroke="#c07438" stroke-opacity="0.18" stroke-width="1"/>
<circle cx="603" cy="408" r="14" fill="url(#gSin)" filter="url(#bump)"/>
<circle cx="603" cy="408" r="13.5" fill="none" stroke="#c07438" stroke-opacity="0.18" stroke-width="1"/>
<circle cx="581.7" cy="404.7" r="17" fill="url(#gSin)" filter="url(#bump)"/>
<circle cx="581.7" cy="404.7" r="16.5" fill="none" stroke="#c07438" stroke-opacity="0.18" stroke-width="1"/>
<circle cx="546" cy="394" r="17" fill="url(#gSin)" filter="url(#bump)"/>
<circle cx="546" cy="394" r="16.5" fill="none" stroke="#c07438" stroke-opacity="0.18" stroke-width="1"/>
<circle cx="512" cy="426" r="14" fill="url(#gSin)" filter="url(#bump)"/>
<circle cx="512" cy="426" r="13.5" fill="none" stroke="#c07438" stroke-opacity="0.18" stroke-width="1"/>
<circle cx="598" cy="430" r="17" fill="url(#gSin)" filter="url(#bump)"/>
<circle cx="598" cy="430" r="16.5" fill="none" stroke="#c07438" stroke-opacity="0.18" stroke-width="1"/>
<circle cx="574.6" cy="426" r="15" fill="url(#gSin)" filter="url(#bump)"/>
<circle cx="574.6" cy="426" r="14.5" fill="none" stroke="#c07438" stroke-opacity="0.18" stroke-width="1"/>
<circle cx="590" cy="444" r="13" fill="url(#gSin)" filter="url(#bump)"/>
<circle cx="590" cy="444" r="12.5" fill="none" stroke="#c07438" stroke-opacity="0.18" stroke-width="1"/>
<circle cx="543" cy="419" r="19" fill="url(#gSin)" filter="url(#bump)"/>
<circle cx="543" cy="419" r="18.5" fill="none" stroke="#c07438" stroke-opacity="0.18" stroke-width="1"/>
<circle cx="537" cy="448" r="18" fill="url(#gSin)" filter="url(#bump)"/>
<circle cx="537" cy="448" r="17.5" fill="none" stroke="#c07438" stroke-opacity="0.18" stroke-width="1"/>
<circle cx="569" cy="449.5" r="17" fill="url(#gSin)" filter="url(#bump)"/>
<circle cx="569" cy="449.5" r="16.5" fill="none" stroke="#c07438" stroke-opacity="0.18" stroke-width="1"/>
<text class="t" text-anchor="middle" x="556.8" y="491.7">Electrochemical</text>
<text class="t" text-anchor="middle" x="556.7" y="504.5">sintering</text>
<line x1="604" y1="374.4" x2="656.7" y2="352.5" stroke="#555" stroke-width="0.8" stroke-dasharray="3,2"/>
<line x1="617" y1="402.3" x2="668.4" y2="406.7" stroke="#555" stroke-width="0.8" stroke-dasharray="3,2"/>
<ellipse cx="702.4" cy="371.5" rx="51.5" ry="43.5" fill="#f2a056" filter="url(#soft1)"/>
<ellipse cx="702.4" cy="371.5" rx="50" ry="42" fill="#f2a056" filter="url(#spots)"/>
<path d="M700.9,328.7 L705.3,338.9 L705.3,351.2 L706.7,367.9" fill="none" stroke="#3a1c0c" stroke-width="1.1"/>
<path d="M705.3,338.2 L722,334.5 L726.3,333.8" fill="none" stroke="#3a1c0c" stroke-width="1.1"/>
<path d="M668.2,349 L705.3,350.5 L738,349.8" fill="none" stroke="#3a1c0c" stroke-width="1.1"/>
<path d="M665.3,356.3 L651.5,367.9" fill="none" stroke="#3a1c0c" stroke-width="1.1"/>
<path d="M651.5,371.5 L679.8,383.2 L692.2,381.7 L706.7,367.9 L734.3,386 L752.4,385.3" fill="none" stroke="#3a1c0c" stroke-width="1.1"/>
<path d="M734.3,386 L722,411.5" fill="none" stroke="#3a1c0c" stroke-width="1.1"/>
<path d="M692.2,381.7 L702.4,414.4" fill="none" stroke="#3a1c0c" stroke-width="1.1"/>
<path d="M679.8,383.2 L668.2,402.8" fill="none" stroke="#3a1c0c" stroke-width="1.1"/>
<g clip-path="url(#cP)">
<path d="M87.0,579.0 L132.0,577.0 L178.0,579.0 L177.5,646.0 L131.0,655.0 L88.0,645.5 Z" fill="#29a983"/>
<path d="M87.0,579.0 L132.0,577.0 L178.0,579.0 L132.0,583.0 Z" fill="#34b490"/>
<rect x="85" y="575" width="95" height="82" filter="url(#fP)"/>
</g>
<text class="t" x="124.5" y="688.6">p-Ge</text>
<text class="t" x="201.8" y="596.1">Lithiation</text>
<path d="M197.5,601 L235.4,601 L235.4,597.6 L255.8,604.9 L235.4,612.2 L235.4,608.7 L197.5,608.7 Z" fill="#c4c4c4"/>
<path d="M0,-3.8 A3.8,3.8 0 1,0 0,3.8 C9.450000000000001,4.79 16.8,4.13 21,4.0 C15.75,1.83 8.4,-3.21 0,-3.8 Z" fill="url(#dropG)" transform="translate(285.6,577.6) rotate(166)"/>
<text class="li" x="273.8" y="565.2">Li<tspan dy="-3.5" dx="0.3" font-size="6.5">+</tspan></text>
<path d="M0,-3.8 A3.8,3.8 0 1,0 0,3.8 C9.9,4.95 17.6,4.69 22,4.800000000000001 C16.5,2.3100000000000005 8.8,-3.13 0,-3.8 Z" fill="url(#dropB)" transform="translate(323.3,569.8) rotate(-38)"/>
<text class="el" x="315.7" y="559.7">e<tspan dy="-3.5" dx="0.3" font-size="6.5">−</tspan></text>
<path d="M0,-3.8 A3.8,3.8 0 1,0 0,3.8 C7.920000000000001,4.95 14.080000000000002,4.69 17.6,4.800000000000001 C13.200000000000001,2.3100000000000005 7.040000000000001,-3.13 0,-3.8 Z" fill="url(#dropB)" transform="translate(389.3,575.5) rotate(142)"/>
<text class="el" x="383.6" y="566.6">e<tspan dy="-3.5" dx="0.3" font-size="6.5">−</tspan></text>
<path d="M0,-3.8 A3.8,3.8 0 1,0 0,3.8 C9.675,3.0299999999999994 17.2,-2.0300000000000002 21.5,-4.800000000000001 C16.125,-3.45 8.6,-4.09 0,-3.8 Z" fill="url(#dropB)" transform="translate(278.8,605.6) rotate(133.5)"/>
<text class="el" x="276.3" y="622.8">e<tspan dy="-3.5" dx="0.3" font-size="6.5">−</tspan></text>
<path d="M0,-3.8 A3.8,3.8 0 1,0 0,3.8 C9.0,4.95 16.0,4.69 20,4.800000000000001 C15.0,2.3100000000000005 8.0,-3.13 0,-3.8 Z" fill="url(#dropB)" transform="translate(376,616.1) rotate(40)"/>
<text class="el" x="380.4" y="614.9">e<tspan dy="-3.5" dx="0.3" font-size="6.5">−</tspan></text>
<path d="M0,-3.8 A3.8,3.8 0 1,0 0,3.8 C7.920000000000001,4.63 14.080000000000002,3.5699999999999994 17.6,3.2 C13.200000000000001,1.35 7.040000000000001,-3.29 0,-3.8 Z" fill="url(#dropG)" transform="translate(306.7,651.6) rotate(152)"/>
<text class="li" x="281.3" y="662.2">Li<tspan dy="-3.5" dx="0.3" font-size="6.5">+</tspan></text>
<path d="M0,-3.8 A3.8,3.8 0 1,0 0,3.8 C7.38,4.63 13.12,3.5699999999999994 16.4,3.2 C12.299999999999999,1.35 6.56,-3.29 0,-3.8 Z" fill="url(#dropG)" transform="translate(356.8,655.7) rotate(-143)"/>
<text class="li" x="360" y="662.2">Li<tspan dy="-3.5" dx="0.3" font-size="6.5">+</tspan></text>
<g clip-path="url(#cO)">
<path d="M289.0,575.5 L330.0,573.5 L377.0,575.5 L376.0,638.0 L328.0,653.0 L290.0,639.0 Z" fill="#f1aa66"/>
<rect x="287" y="571.5" width="92" height="83.5" filter="url(#fO)"/>
</g>
<text class="t" text-anchor="middle" x="333" y="685.7">Electrochemical</text>
<text class="t" text-anchor="middle" x="332.7" y="698.6">activation</text>
<text class="t" x="413.9" y="595.8">Many cycles</text>
<g fill="#c4c4c4"><rect x="415.2" y="601.4" width="5.8" height="6.4"/><rect x="425.7" y="601.4" width="5.8" height="6.4"/><rect x="436.3" y="601.4" width="5.8" height="6.4"/><path d="M446.4,601.4 L452,601.4 L452,598.2 L470.2,604.7 L452,611.3 L452,607.8 L446.4,607.8 Z"/></g>
<g clip-path="url(#cR)">
<path d="M513.0,575.0 L560.0,574.0 L608.7,575.0 L608.7,644.0 L556.0,656.3 L513.0,642.3 Z" fill="#f0b070"/>
<rect x="511" y="572" width="99.70000000000005" height="86.29999999999995" filter="url(#fR)"/>
</g>
<text class="t" text-anchor="middle" x="558" y="685.8">Electrochemical</text>
<text class="t" text-anchor="middle" x="557.8" y="699">reconstruction</text>
<line x1="605.4" y1="582" x2="655" y2="562" stroke="#555" stroke-width="0.8" stroke-dasharray="3,2"/>
<line x1="605.4" y1="609.2" x2="667.3" y2="616.6" stroke="#555" stroke-width="0.8" stroke-dasharray="3,2"/>
<ellipse cx="701.4" cy="581.2" rx="51.5" ry="43.5" fill="#f4ae66" filter="url(#soft2)"/>
<g clip-path="url(#cz2)"><g filter="url(#hb)">
<path d="M703.1,546.0 C703.2,548.1 702.2,551.1 700.7,552.4 C699.3,553.8 696.2,554.6 694.3,554.1 C692.4,553.6 690.4,551.7 689.2,549.5 C688.0,547.4 686.4,543.5 687.2,541.4 C688.0,539.4 691.9,537.5 694.2,537.3 C696.4,537.0 699.0,538.5 700.5,539.9 C702.0,541.4 703.1,543.9 703.1,546.0 Z" fill="#c88448" opacity="0.8"/>
<path d="M701.2,545.4 C701.4,546.9 701.1,550.1 700.0,551.0 C698.9,551.8 696.3,550.8 694.6,550.3 C692.9,549.9 690.3,549.5 689.8,548.3 C689.3,547.1 690.8,544.6 691.6,543.3 C692.4,542.0 693.4,540.5 694.6,540.3 C695.7,540.0 697.5,540.7 698.6,541.6 C699.7,542.4 701.0,543.8 701.2,545.4 Z" fill="#7a4420"/>
<path d="M700.2,544.7 C700.1,545.8 698.5,546.8 697.6,547.4 C696.6,548.0 695.4,548.5 694.6,548.3 C693.7,548.0 692.9,547.0 692.5,546.1 C692.0,545.3 691.7,544.1 692.1,543.1 C692.4,542.1 693.3,540.4 694.4,540.1 C695.4,539.8 697.3,540.3 698.3,541.0 C699.3,541.8 700.4,543.6 700.2,544.7 Z" fill="#3a1c0a"/>
<path d="M671.4,560.6 C670.9,562.4 668.2,565.1 666.1,565.5 C664.1,566.0 661.1,564.5 659.1,563.3 C657.1,562.0 654.2,559.7 654.2,558.1 C654.1,556.4 657.2,555.0 658.8,553.5 C660.4,552.0 662.2,549.2 663.8,549.3 C665.5,549.4 667.7,552.4 669.0,554.2 C670.2,556.1 671.9,558.7 671.4,560.6 Z" fill="#c88448" opacity="0.8"/>
<path d="M667.1,558.6 C666.6,559.9 666.2,561.7 664.9,562.2 C663.7,562.7 660.7,562.5 659.5,561.6 C658.3,560.8 657.7,558.5 657.7,557.2 C657.7,556.0 658.6,555.1 659.6,554.1 C660.5,553.1 661.9,551.3 663.2,551.3 C664.6,551.4 667.1,553.2 667.8,554.4 C668.4,555.6 667.6,557.3 667.1,558.6 Z" fill="#7a4420"/>
<path d="M666.2,557.9 C666.0,558.8 665.0,560.4 664.2,560.5 C663.3,560.6 661.8,559.2 661.0,558.6 C660.2,557.9 659.7,557.3 659.5,556.6 C659.4,555.9 659.7,554.9 660.2,554.5 C660.7,554.0 661.7,554.0 662.7,554.0 C663.6,554.1 665.3,554.1 665.9,554.8 C666.5,555.4 666.5,556.9 666.2,557.9 Z" fill="#3a1c0a"/>
<path d="M682.3,569.7 C680.6,571.6 677.9,572.3 676.1,572.6 C674.3,572.9 672.5,572.7 671.7,571.6 C670.9,570.6 670.7,568.3 671.3,566.2 C671.8,564.1 673.0,560.7 674.8,559.1 C676.5,557.6 679.7,556.6 681.5,557.0 C683.4,557.3 685.9,559.1 686.1,561.2 C686.2,563.3 684.0,567.8 682.3,569.7 Z" fill="#c88448" opacity="0.8"/>
<path d="M680.2,567.7 C679.0,569.5 677.2,572.2 675.9,572.6 C674.6,572.9 673.0,571.1 672.4,569.9 C671.7,568.7 671.6,566.8 672.1,565.3 C672.6,563.9 674.1,562.0 675.3,561.2 C676.5,560.3 678.0,560.1 679.3,560.2 C680.6,560.3 683.2,560.8 683.3,562.0 C683.5,563.3 681.4,565.9 680.2,567.7 Z" fill="#7a4420"/>
<path d="M679.8,566.9 C679.0,567.9 677.0,569.0 676.1,569.1 C675.1,569.1 674.3,568.1 673.9,567.3 C673.5,566.6 673.4,565.5 673.6,564.6 C673.9,563.7 674.8,562.5 675.6,561.9 C676.4,561.3 677.5,560.8 678.4,560.9 C679.2,561.0 680.4,561.6 680.6,562.6 C680.9,563.6 680.5,565.8 679.8,566.9 Z" fill="#3a1c0a"/>
<path d="M739.4,555.9 C740.8,559.9 742.9,564.8 742.0,568.1 C741.1,571.3 736.8,575.7 734.0,575.5 C731.2,575.2 727.8,569.8 725.3,566.6 C722.9,563.4 719.8,560.1 719.3,556.3 C718.8,552.5 719.9,545.7 722.3,543.7 C724.7,541.8 730.8,542.6 733.7,544.6 C736.5,546.7 738.0,552.0 739.4,555.9 Z" fill="#c88448" opacity="0.8"/>
<path d="M738.4,555.0 C739.5,558.2 741.0,562.9 740.0,565.2 C739.0,567.6 735.0,569.2 732.5,569.0 C730.1,568.9 727.2,566.5 725.5,564.3 C723.7,562.2 722.5,559.1 722.2,556.1 C722.0,553.1 722.2,548.1 724.0,546.4 C725.8,544.8 730.6,544.8 733.0,546.2 C735.4,547.7 737.2,551.8 738.4,555.0 Z" fill="#7a4420"/>
<path d="M736.9,554.2 C737.7,555.8 736.8,559.6 735.8,561.1 C734.8,562.5 732.7,562.7 731.2,562.7 C729.7,562.7 728.0,562.0 726.9,560.8 C725.7,559.6 724.5,557.4 724.4,555.6 C724.2,553.7 724.9,550.4 726.1,549.7 C727.2,549.0 729.5,550.9 731.3,551.6 C733.1,552.4 736.1,552.7 736.9,554.2 Z" fill="#3a1c0a"/>
<path d="M718.4,582.4 C716.5,586.7 710.7,591.9 706.6,592.9 C702.6,593.9 696.3,591.4 694.0,588.6 C691.7,585.8 692.7,580.7 692.7,576.2 C692.6,571.8 691.3,564.6 693.7,562.0 C696.1,559.4 703.2,559.7 707.3,560.5 C711.3,561.4 716.2,563.5 718.1,567.1 C719.9,570.7 720.3,578.1 718.4,582.4 Z" fill="#c88448" opacity="0.8"/>
<path d="M712.9,578.9 C711.6,581.8 708.2,585.7 705.5,586.4 C702.8,587.1 699.2,584.9 696.6,583.0 C694.0,581.1 690.2,578.1 690.0,574.9 C689.7,571.7 692.4,566.2 695.1,563.9 C697.8,561.5 703.2,560.1 706.2,560.9 C709.2,561.7 712.2,565.7 713.3,568.7 C714.5,571.7 714.2,575.9 712.9,578.9 Z" fill="#7a4420"/>
<path d="M708.6,575.9 C707.5,577.8 705.7,579.7 704.0,580.1 C702.3,580.5 700.1,579.7 698.4,578.6 C696.7,577.5 693.8,575.5 693.6,573.4 C693.4,571.4 695.5,567.9 697.3,566.4 C699.1,564.9 702.4,564.0 704.5,564.4 C706.7,564.9 709.7,567.0 710.4,568.9 C711.0,570.8 709.7,574.1 708.6,575.9 Z" fill="#3a1c0a"/>
<path d="M670.2,584.5 C670.4,588.1 666.7,594.5 664.1,596.6 C661.5,598.7 657.6,597.9 654.5,597.1 C651.5,596.2 646.8,594.4 645.7,591.4 C644.7,588.4 646.7,582.7 648.1,579.1 C649.5,575.5 651.8,570.5 654.2,569.9 C656.5,569.3 659.6,572.9 662.3,575.3 C664.9,577.7 669.9,580.9 670.2,584.5 Z" fill="#c88448" opacity="0.8"/>
<path d="M665.7,583.5 C665.6,586.2 663.1,589.8 661.3,591.2 C659.4,592.6 657.0,592.5 654.7,592.1 C652.4,591.7 648.3,590.7 647.6,588.7 C646.9,586.7 649.5,582.9 650.6,580.0 C651.7,577.2 652.2,572.5 654.1,571.6 C656.0,570.7 660.0,572.7 661.9,574.6 C663.9,576.6 665.8,580.7 665.7,583.5 Z" fill="#7a4420"/>
<path d="M660.5,582.4 C660.5,584.5 660.8,587.3 659.8,588.4 C658.9,589.6 656.3,589.7 654.6,589.3 C652.9,588.9 650.5,587.6 649.8,586.0 C649.2,584.3 649.8,581.0 650.6,579.3 C651.4,577.6 653.1,576.6 654.7,576.0 C656.3,575.4 659.2,574.8 660.1,575.9 C661.1,577.0 660.6,580.3 660.5,582.4 Z" fill="#3a1c0a"/>
<path d="M740.0,589.2 C739.6,592.7 739.2,598.9 737.0,600.3 C734.9,601.6 729.9,598.7 727.2,597.1 C724.6,595.5 721.7,593.4 721.1,590.9 C720.5,588.3 722.0,584.8 723.6,581.7 C725.1,578.7 727.9,572.9 730.6,572.5 C733.3,572.1 738.0,576.4 739.5,579.2 C741.1,582.0 740.4,585.7 740.0,589.2 Z" fill="#c88448" opacity="0.8"/>
<path d="M739.9,588.3 C739.3,590.6 736.3,592.3 734.1,593.6 C731.9,594.8 728.9,596.6 726.8,595.9 C724.7,595.2 722.0,591.6 721.7,589.4 C721.5,587.1 723.7,584.5 725.1,582.5 C726.5,580.6 728.1,578.1 730.2,577.7 C732.3,577.3 736.1,578.2 737.7,580.0 C739.3,581.7 740.5,586.0 739.9,588.3 Z" fill="#7a4420"/>
<path d="M735.2,586.6 C734.7,588.4 734.4,590.8 733.2,591.5 C732.0,592.2 729.5,591.5 728.1,590.8 C726.7,590.1 725.4,588.9 724.8,587.3 C724.2,585.7 723.5,582.9 724.3,581.4 C725.2,579.9 727.9,578.3 729.8,578.2 C731.7,578.0 734.9,579.2 735.8,580.6 C736.6,582.0 735.6,584.8 735.2,586.6 Z" fill="#3a1c0a"/>
<path d="M690.4,601.9 C690.1,604.3 687.8,607.4 684.7,608.6 C681.5,609.9 675.4,610.5 671.6,609.3 C667.8,608.2 663.0,604.2 662.0,601.6 C661.0,598.9 663.2,595.6 665.4,593.4 C667.6,591.1 671.7,588.0 675.2,588.1 C678.7,588.2 684.0,591.8 686.5,594.0 C689.0,596.3 690.7,599.4 690.4,601.9 Z" fill="#c88448" opacity="0.8"/>
<path d="M689.1,601.0 C689.1,602.6 684.5,604.5 681.9,605.0 C679.4,605.4 676.5,604.4 673.7,603.6 C671.0,602.8 666.2,601.6 665.4,600.1 C664.7,598.7 667.6,596.6 669.2,595.1 C670.9,593.7 673.0,591.3 675.2,591.4 C677.4,591.5 679.9,594.1 682.2,595.7 C684.5,597.3 689.2,599.5 689.1,601.0 Z" fill="#7a4420"/>
<path d="M685.0,599.7 C684.9,600.8 681.9,602.0 679.9,602.5 C678.0,603.0 674.9,603.3 673.3,602.7 C671.7,602.1 671.0,600.1 670.4,598.7 C669.7,597.4 668.5,595.6 669.3,594.8 C670.2,594.0 673.3,593.6 675.2,593.7 C677.0,593.9 678.8,594.7 680.4,595.7 C682.1,596.7 685.0,598.6 685.0,599.7 Z" fill="#3a1c0a"/>
<path d="M707.5,604.0 C707.5,604.7 706.0,605.5 705.2,606.0 C704.4,606.6 703.5,607.4 702.9,607.3 C702.2,607.1 701.7,606.0 701.2,605.2 C700.7,604.3 699.8,603.1 700.0,602.3 C700.3,601.4 701.8,600.1 702.7,600.1 C703.6,600.0 704.4,601.3 705.2,602.0 C706.0,602.6 707.5,603.3 707.5,604.0 Z" fill="#c88448" opacity="0.8"/>
<path d="M705.9,603.8 C706.0,604.3 705.5,605.1 705.0,605.6 C704.5,606.0 703.5,606.4 702.9,606.3 C702.2,606.2 701.2,605.5 701.0,604.9 C700.7,604.3 701.1,603.5 701.4,602.8 C701.7,602.1 702.2,601.0 702.8,600.9 C703.4,600.8 704.3,601.7 704.8,602.2 C705.3,602.7 705.9,603.2 705.9,603.8 Z" fill="#7a4420"/>
<path d="M704.8,603.5 C704.8,603.9 704.9,604.8 704.6,605.0 C704.3,605.2 703.5,604.9 703.0,604.8 C702.6,604.6 702.2,604.4 702.0,604.1 C701.8,603.8 701.6,603.1 701.8,602.8 C701.9,602.5 702.6,602.1 703.0,602.0 C703.4,602.0 704.0,602.2 704.3,602.4 C704.6,602.7 704.7,603.1 704.8,603.5 Z" fill="#3a1c0a"/>
<path d="M719.1,604.0 C719.0,605.2 717.7,606.4 716.7,607.1 C715.7,607.9 714.1,608.8 713.2,608.5 C712.2,608.2 711.6,606.6 711.0,605.5 C710.4,604.4 709.4,602.7 709.8,601.9 C710.2,601.1 712.2,600.9 713.4,600.6 C714.7,600.3 716.3,599.6 717.2,600.2 C718.2,600.8 719.2,602.8 719.1,604.0 Z" fill="#c88448" opacity="0.8"/>
<path d="M717.2,603.7 C717.3,604.5 717.0,605.9 716.4,606.5 C715.7,607.0 714.2,607.1 713.3,606.9 C712.4,606.6 711.5,605.8 711.2,605.0 C710.8,604.3 711.0,603.2 711.3,602.4 C711.7,601.7 712.5,600.6 713.3,600.4 C714.0,600.3 715.2,601.0 715.9,601.5 C716.5,602.1 717.1,602.9 717.2,603.7 Z" fill="#7a4420"/>
<path d="M715.6,603.4 C715.6,604.0 715.8,604.9 715.5,605.2 C715.1,605.6 714.0,605.7 713.4,605.6 C712.8,605.4 712.1,604.8 711.8,604.3 C711.6,603.8 711.5,602.9 711.8,602.5 C712.1,602.0 712.9,601.8 713.5,601.8 C714.1,601.7 714.8,601.6 715.2,601.9 C715.5,602.2 715.5,602.8 715.6,603.4 Z" fill="#3a1c0a"/>
<path d="M723.8,616.5 C724.0,618.4 722.8,621.7 721.2,623.0 C719.6,624.3 715.9,625.2 714.2,624.5 C712.5,623.8 711.8,620.8 711.0,618.9 C710.1,617.1 708.8,614.8 709.4,613.3 C709.9,611.8 712.7,610.0 714.5,609.7 C716.2,609.4 718.4,610.3 720.0,611.5 C721.6,612.6 723.6,614.6 723.8,616.5 Z" fill="#c88448" opacity="0.8"/>
<path d="M719.9,616.0 C719.8,617.1 719.2,618.3 718.3,619.0 C717.4,619.8 715.8,620.7 714.7,620.6 C713.5,620.4 711.7,619.1 711.3,618.1 C710.8,617.0 711.2,615.2 711.8,614.2 C712.3,613.1 713.5,612.0 714.7,611.7 C715.9,611.3 718.1,611.5 719.0,612.2 C719.8,612.9 720.0,614.9 719.9,616.0 Z" fill="#7a4420"/>
<path d="M719.5,615.5 C719.4,616.5 718.5,617.7 717.8,618.2 C717.0,618.6 715.9,618.3 714.9,618.1 C713.8,618.0 712.1,617.8 711.7,617.2 C711.4,616.5 712.1,615.1 712.6,614.2 C713.0,613.3 713.6,611.9 714.5,611.6 C715.5,611.3 717.4,611.7 718.2,612.3 C719.0,613.0 719.5,614.5 719.5,615.5 Z" fill="#3a1c0a"/>
<path d="M729.2,601.5 C728.5,603.7 727.2,607.0 725.7,608.4 C724.1,609.9 720.8,611.2 719.7,610.2 C718.7,609.1 719.0,604.7 719.4,602.1 C719.7,599.4 720.5,596.1 721.8,594.4 C723.0,592.6 725.6,591.6 726.8,591.8 C728.1,592.0 729.0,594.0 729.3,595.6 C729.7,597.2 729.8,599.4 729.2,601.5 Z" fill="#c88448" opacity="0.8"/>
<path d="M728.0,600.5 C727.3,602.0 726.2,603.3 725.3,604.0 C724.3,604.6 722.9,605.0 722.1,604.5 C721.2,603.9 720.1,602.4 720.1,600.9 C720.2,599.3 721.3,596.8 722.3,595.2 C723.4,593.7 725.3,591.5 726.5,591.5 C727.7,591.4 729.1,593.4 729.3,594.9 C729.6,596.4 728.7,599.0 728.0,600.5 Z" fill="#7a4420"/>
<path d="M727.1,599.5 C726.7,600.7 725.9,602.9 725.1,603.4 C724.3,604.0 723.0,603.5 722.4,602.8 C721.8,602.2 721.4,600.9 721.5,599.6 C721.5,598.4 721.9,596.4 722.6,595.4 C723.3,594.4 724.8,593.7 725.6,593.8 C726.4,594.0 727.0,595.1 727.3,596.0 C727.5,597.0 727.4,598.3 727.1,599.5 Z" fill="#3a1c0a"/>
</g></g>
</svg>
</body></html>
